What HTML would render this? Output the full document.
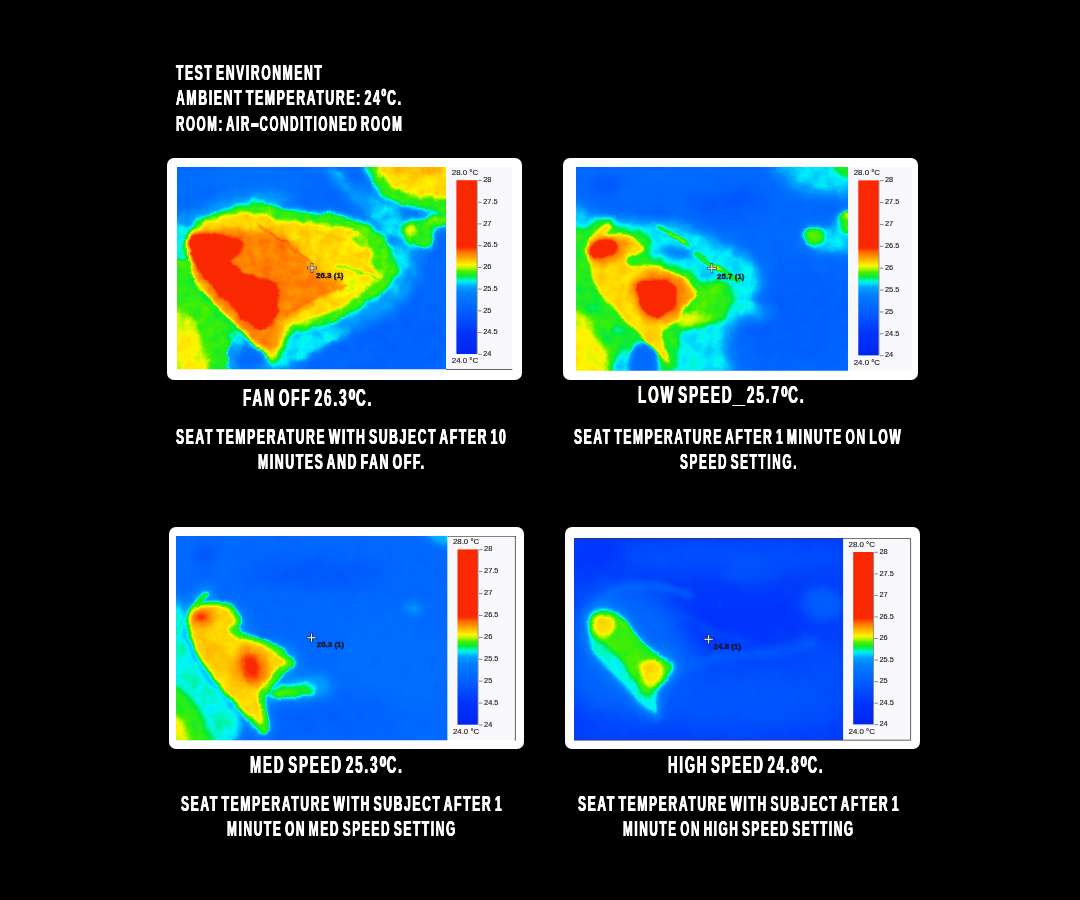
<!DOCTYPE html>
<html lang="en">
<head>
<meta charset="utf-8">
<title>Seat temperature thermal test</title>
<style>
html,body{margin:0;padding:0;background:#000;}
body{width:1080px;height:900px;position:relative;overflow:hidden;font-family:"Liberation Sans",sans-serif;}
.frame{position:absolute;background:#fff;border-radius:7px;overflow:hidden;}
.shot{position:absolute;display:block;}
.leg text{font-family:"Liberation Sans",sans-serif;font-size:7.4px;fill:#1c1c1c;stroke:#1c1c1c;stroke-width:0.15px;}
.leg text.u{font-size:7.9px;}
.mk text{font-family:"Liberation Sans",sans-serif;font-size:8px;font-weight:bold;fill:#15152a;stroke:#15152a;stroke-width:0.4px;}
header,main,figure,figcaption{display:block;margin:0;padding:0;}
.t{position:absolute;margin:0;padding:0;white-space:nowrap;color:#fff;font-weight:bold;line-height:1;transform-origin:0 0;letter-spacing:0.14em;word-spacing:-0.2em;text-shadow:0.65px 0 0 #fff,-0.65px 0 0 #fff;}
.t .dg{display:inline-block;transform:scale(1.3,1.3);transform-origin:50% 17%;margin:0 0.05em 0 0.07em;letter-spacing:0.06em;}
.t .us{display:inline-block;transform:scaleX(1.5);margin:0 0.15em;}
.t .hy{display:inline-block;transform:scale(2.1,1.45);transform-origin:0 59%;margin:0 0.45em 0 -0.04em;letter-spacing:0;}
.h .dg{transform:scale(1.05,0.95);margin:0 0.02em;}

.h{font-size:21.4px;}
.c{font-size:22.1px;}
.tt{font-size:24.7px;}
</style>
</head>
<body>
<header>
<p class="t h" style="left:175.9px;top:62.9px;transform:scaleX(0.5622)">TEST ENVIRONMENT</p>
<p class="t h" style="left:175.9px;top:87.9px;transform:scaleX(0.5680)">AMBIENT TEMPERATURE: 24<span class="dg">º</span>C.</p>
<p class="t h" style="left:175.9px;top:113.9px;transform:scaleX(0.5413)">ROOM: AIR<span class="hy">-</span>CONDITIONED ROOM</p>
</header>
<main>
<figure>
<div class="frame" style="left:167px;top:158px;width:355px;height:221.5px">
<svg class="shot" style="left:10px;top:9px" width="336.4" height="203.7" viewBox="177 167 336.4 203.7">
<defs>
<filter id="jet0" filterUnits="userSpaceOnUse" x="167" y="157" width="289.2" height="222.2" color-interpolation-filters="sRGB">
<feTurbulence type="fractalNoise" baseFrequency="0.08" numOctaves="3" seed="3" result="n"/>
<feColorMatrix in="n" type="matrix" values="0 0 1 0 0  0 0 1 0 0  0 0 1 0 0  0 0 0 0 1" result="ng"/>
<feDisplacementMap in="SourceGraphic" in2="n" scale="6" xChannelSelector="R" yChannelSelector="G" result="d"/>
<feComposite in="d" in2="ng" operator="arithmetic" k1="0" k2="1" k3="0.06" k4="-0.03" result="f"/>
<feComponentTransfer in="f">
<feFuncR type="table" tableValues="0.000 0.000 0.000 0.000 0.000 0.000 0.000 0.000 0.000 0.000 0.000 0.000 0.000 0.000 0.000 0.000 0.000 0.000 0.000 0.000 0.000 0.000 0.000 0.000 0.000 0.000 0.000 0.000 0.000 0.000 0.000 0.000 0.000 0.000 0.000 0.000 0.000 0.000 0.000 0.000 0.000 0.000 0.000 0.000 0.000 0.000 0.000 0.000 0.000 0.000 0.000 0.000 0.000 0.000 0.000 0.000 0.000 0.000 0.000 0.000 0.000 0.000 0.000 0.000 0.000 0.000 0.000 0.000 0.000 0.000 0.000 0.000 0.046 0.103 0.160 0.217 0.275 0.404 0.534 0.663 0.793 0.922 1.000 1.000 1.000 1.000 1.000 1.000 1.000 1.000 1.000 1.000 1.000 1.000 1.000 0.996 0.991 0.987 0.982 0.980 0.980 0.980 0.980 0.980 0.980 0.980 0.980 0.980 0.980 0.980 0.980 0.980 0.980 0.980 0.980 0.980 0.980 0.980 0.980 0.980 0.980"/>
<feFuncG type="table" tableValues="0.141 0.144 0.147 0.151 0.154 0.157 0.160 0.163 0.166 0.169 0.173 0.176 0.179 0.182 0.185 0.188 0.191 0.195 0.198 0.201 0.204 0.213 0.221 0.230 0.238 0.247 0.256 0.264 0.273 0.282 0.290 0.299 0.307 0.316 0.325 0.333 0.342 0.351 0.359 0.368 0.376 0.384 0.392 0.400 0.408 0.416 0.424 0.431 0.439 0.447 0.455 0.463 0.471 0.478 0.486 0.494 0.502 0.525 0.547 0.570 0.593 0.615 0.638 0.689 0.758 0.828 0.897 0.967 0.969 0.954 0.939 0.925 0.925 0.929 0.933 0.937 0.941 0.948 0.955 0.962 0.969 0.976 0.962 0.916 0.870 0.824 0.778 0.732 0.686 0.644 0.601 0.559 0.516 0.474 0.431 0.369 0.307 0.244 0.182 0.157 0.157 0.157 0.157 0.157 0.157 0.157 0.157 0.157 0.157 0.157 0.157 0.157 0.157 0.157 0.157 0.157 0.157 0.157 0.157 0.157 0.157"/>
<feFuncB type="table" tableValues="0.941 0.944 0.946 0.948 0.951 0.953 0.955 0.958 0.960 0.962 0.965 0.967 0.969 0.972 0.974 0.976 0.979 0.981 0.984 0.986 0.988 0.989 0.989 0.990 0.991 0.991 0.992 0.992 0.993 0.994 0.994 0.995 0.995 0.996 0.996 0.997 0.998 0.998 0.999 0.999 1.000 1.000 1.000 1.000 1.000 1.000 1.000 1.000 1.000 1.000 1.000 1.000 1.000 1.000 1.000 1.000 1.000 1.000 1.000 1.000 1.000 1.000 1.000 0.998 0.993 0.989 0.985 0.981 0.831 0.645 0.459 0.273 0.196 0.147 0.098 0.049 0.000 0.000 0.000 0.000 0.000 0.000 0.000 0.000 0.000 0.000 0.000 0.000 0.000 0.000 0.000 0.000 0.000 0.000 0.000 0.000 0.000 0.000 0.000 0.000 0.000 0.000 0.000 0.000 0.000 0.000 0.000 0.000 0.000 0.000 0.000 0.000 0.000 0.000 0.000 0.000 0.000 0.000 0.000 0.000 0.000"/>
</feComponentTransfer>
</filter>

<filter id="jet1" filterUnits="userSpaceOnUse" x="566" y="157" width="292" height="223.7" color-interpolation-filters="sRGB">
<feTurbulence type="fractalNoise" baseFrequency="0.07" numOctaves="3" seed="5" result="n"/>
<feColorMatrix in="n" type="matrix" values="0 0 1 0 0  0 0 1 0 0  0 0 1 0 0  0 0 0 0 1" result="ng"/>
<feDisplacementMap in="SourceGraphic" in2="n" scale="4" xChannelSelector="R" yChannelSelector="G" result="d"/>
<feComposite in="d" in2="ng" operator="arithmetic" k1="0" k2="1" k3="0.05" k4="-0.025" result="f"/>
<feComponentTransfer in="f">
<feFuncR type="table" tableValues="0.000 0.000 0.000 0.000 0.000 0.000 0.000 0.000 0.000 0.000 0.000 0.000 0.000 0.000 0.000 0.000 0.000 0.000 0.000 0.000 0.000 0.000 0.000 0.000 0.000 0.000 0.000 0.000 0.000 0.000 0.000 0.000 0.000 0.000 0.000 0.000 0.000 0.000 0.000 0.000 0.000 0.000 0.000 0.000 0.000 0.000 0.000 0.000 0.000 0.000 0.000 0.000 0.000 0.000 0.000 0.000 0.000 0.000 0.000 0.000 0.000 0.000 0.000 0.000 0.000 0.000 0.000 0.000 0.000 0.000 0.000 0.000 0.046 0.103 0.160 0.217 0.275 0.404 0.534 0.663 0.793 0.922 1.000 1.000 1.000 1.000 1.000 1.000 1.000 1.000 1.000 1.000 1.000 1.000 1.000 0.996 0.991 0.987 0.982 0.980 0.980 0.980 0.980 0.980 0.980 0.980 0.980 0.980 0.980 0.980 0.980 0.980 0.980 0.980 0.980 0.980 0.980 0.980 0.980 0.980 0.980"/>
<feFuncG type="table" tableValues="0.141 0.144 0.147 0.151 0.154 0.157 0.160 0.163 0.166 0.169 0.173 0.176 0.179 0.182 0.185 0.188 0.191 0.195 0.198 0.201 0.204 0.213 0.221 0.230 0.238 0.247 0.256 0.264 0.273 0.282 0.290 0.299 0.307 0.316 0.325 0.333 0.342 0.351 0.359 0.368 0.376 0.384 0.392 0.400 0.408 0.416 0.424 0.431 0.439 0.447 0.455 0.463 0.471 0.478 0.486 0.494 0.502 0.525 0.547 0.570 0.593 0.615 0.638 0.689 0.758 0.828 0.897 0.967 0.969 0.954 0.939 0.925 0.925 0.929 0.933 0.937 0.941 0.948 0.955 0.962 0.969 0.976 0.962 0.916 0.870 0.824 0.778 0.732 0.686 0.644 0.601 0.559 0.516 0.474 0.431 0.369 0.307 0.244 0.182 0.157 0.157 0.157 0.157 0.157 0.157 0.157 0.157 0.157 0.157 0.157 0.157 0.157 0.157 0.157 0.157 0.157 0.157 0.157 0.157 0.157 0.157"/>
<feFuncB type="table" tableValues="0.941 0.944 0.946 0.948 0.951 0.953 0.955 0.958 0.960 0.962 0.965 0.967 0.969 0.972 0.974 0.976 0.979 0.981 0.984 0.986 0.988 0.989 0.989 0.990 0.991 0.991 0.992 0.992 0.993 0.994 0.994 0.995 0.995 0.996 0.996 0.997 0.998 0.998 0.999 0.999 1.000 1.000 1.000 1.000 1.000 1.000 1.000 1.000 1.000 1.000 1.000 1.000 1.000 1.000 1.000 1.000 1.000 1.000 1.000 1.000 1.000 1.000 1.000 0.998 0.993 0.989 0.985 0.981 0.831 0.645 0.459 0.273 0.196 0.147 0.098 0.049 0.000 0.000 0.000 0.000 0.000 0.000 0.000 0.000 0.000 0.000 0.000 0.000 0.000 0.000 0.000 0.000 0.000 0.000 0.000 0.000 0.000 0.000 0.000 0.000 0.000 0.000 0.000 0.000 0.000 0.000 0.000 0.000 0.000 0.000 0.000 0.000 0.000 0.000 0.000 0.000 0.000 0.000 0.000 0.000 0.000"/>
</feComponentTransfer>
</filter>

<filter id="jet2" filterUnits="userSpaceOnUse" x="166.3" y="526.3" width="291.6" height="224.3" color-interpolation-filters="sRGB">
<feTurbulence type="fractalNoise" baseFrequency="0.07" numOctaves="3" seed="7" result="n"/>
<feColorMatrix in="n" type="matrix" values="0 0 1 0 0  0 0 1 0 0  0 0 1 0 0  0 0 0 0 1" result="ng"/>
<feDisplacementMap in="SourceGraphic" in2="n" scale="4" xChannelSelector="R" yChannelSelector="G" result="d"/>
<feComposite in="d" in2="ng" operator="arithmetic" k1="0" k2="1" k3="0.04" k4="-0.02" result="f"/>
<feComponentTransfer in="f">
<feFuncR type="table" tableValues="0.000 0.000 0.000 0.000 0.000 0.000 0.000 0.000 0.000 0.000 0.000 0.000 0.000 0.000 0.000 0.000 0.000 0.000 0.000 0.000 0.000 0.000 0.000 0.000 0.000 0.000 0.000 0.000 0.000 0.000 0.000 0.000 0.000 0.000 0.000 0.000 0.000 0.000 0.000 0.000 0.000 0.000 0.000 0.000 0.000 0.000 0.000 0.000 0.000 0.000 0.000 0.000 0.000 0.000 0.000 0.000 0.000 0.000 0.000 0.000 0.000 0.000 0.000 0.000 0.000 0.000 0.000 0.000 0.000 0.000 0.000 0.000 0.046 0.103 0.160 0.217 0.275 0.404 0.534 0.663 0.793 0.922 1.000 1.000 1.000 1.000 1.000 1.000 1.000 1.000 1.000 1.000 1.000 1.000 1.000 0.996 0.991 0.987 0.982 0.980 0.980 0.980 0.980 0.980 0.980 0.980 0.980 0.980 0.980 0.980 0.980 0.980 0.980 0.980 0.980 0.980 0.980 0.980 0.980 0.980 0.980"/>
<feFuncG type="table" tableValues="0.141 0.144 0.147 0.151 0.154 0.157 0.160 0.163 0.166 0.169 0.173 0.176 0.179 0.182 0.185 0.188 0.191 0.195 0.198 0.201 0.204 0.213 0.221 0.230 0.238 0.247 0.256 0.264 0.273 0.282 0.290 0.299 0.307 0.316 0.325 0.333 0.342 0.351 0.359 0.368 0.376 0.384 0.392 0.400 0.408 0.416 0.424 0.431 0.439 0.447 0.455 0.463 0.471 0.478 0.486 0.494 0.502 0.525 0.547 0.570 0.593 0.615 0.638 0.689 0.758 0.828 0.897 0.967 0.969 0.954 0.939 0.925 0.925 0.929 0.933 0.937 0.941 0.948 0.955 0.962 0.969 0.976 0.962 0.916 0.870 0.824 0.778 0.732 0.686 0.644 0.601 0.559 0.516 0.474 0.431 0.369 0.307 0.244 0.182 0.157 0.157 0.157 0.157 0.157 0.157 0.157 0.157 0.157 0.157 0.157 0.157 0.157 0.157 0.157 0.157 0.157 0.157 0.157 0.157 0.157 0.157"/>
<feFuncB type="table" tableValues="0.941 0.944 0.946 0.948 0.951 0.953 0.955 0.958 0.960 0.962 0.965 0.967 0.969 0.972 0.974 0.976 0.979 0.981 0.984 0.986 0.988 0.989 0.989 0.990 0.991 0.991 0.992 0.992 0.993 0.994 0.994 0.995 0.995 0.996 0.996 0.997 0.998 0.998 0.999 0.999 1.000 1.000 1.000 1.000 1.000 1.000 1.000 1.000 1.000 1.000 1.000 1.000 1.000 1.000 1.000 1.000 1.000 1.000 1.000 1.000 1.000 1.000 1.000 0.998 0.993 0.989 0.985 0.981 0.831 0.645 0.459 0.273 0.196 0.147 0.098 0.049 0.000 0.000 0.000 0.000 0.000 0.000 0.000 0.000 0.000 0.000 0.000 0.000 0.000 0.000 0.000 0.000 0.000 0.000 0.000 0.000 0.000 0.000 0.000 0.000 0.000 0.000 0.000 0.000 0.000 0.000 0.000 0.000 0.000 0.000 0.000 0.000 0.000 0.000 0.000 0.000 0.000 0.000 0.000 0.000 0.000"/>
</feComponentTransfer>
</filter>

<filter id="jet3" filterUnits="userSpaceOnUse" x="564.4" y="528" width="289.3" height="222" color-interpolation-filters="sRGB">
<feTurbulence type="fractalNoise" baseFrequency="0.07" numOctaves="3" seed="9" result="n"/>
<feColorMatrix in="n" type="matrix" values="0 0 1 0 0  0 0 1 0 0  0 0 1 0 0  0 0 0 0 1" result="ng"/>
<feDisplacementMap in="SourceGraphic" in2="n" scale="4" xChannelSelector="R" yChannelSelector="G" result="d"/>
<feComposite in="d" in2="ng" operator="arithmetic" k1="0" k2="1" k3="0.035" k4="-0.0175" result="f"/>
<feComponentTransfer in="f">
<feFuncR type="table" tableValues="0.000 0.000 0.000 0.000 0.000 0.000 0.000 0.000 0.000 0.000 0.000 0.000 0.000 0.000 0.000 0.000 0.000 0.000 0.000 0.000 0.000 0.000 0.000 0.000 0.000 0.000 0.000 0.000 0.000 0.000 0.000 0.000 0.000 0.000 0.000 0.000 0.000 0.000 0.000 0.000 0.000 0.000 0.000 0.000 0.000 0.000 0.000 0.000 0.000 0.000 0.000 0.000 0.000 0.000 0.000 0.000 0.000 0.000 0.000 0.000 0.000 0.000 0.000 0.000 0.000 0.000 0.000 0.000 0.000 0.000 0.000 0.000 0.046 0.103 0.160 0.217 0.275 0.404 0.534 0.663 0.793 0.922 1.000 1.000 1.000 1.000 1.000 1.000 1.000 1.000 1.000 1.000 1.000 1.000 1.000 0.996 0.991 0.987 0.982 0.980 0.980 0.980 0.980 0.980 0.980 0.980 0.980 0.980 0.980 0.980 0.980 0.980 0.980 0.980 0.980 0.980 0.980 0.980 0.980 0.980 0.980"/>
<feFuncG type="table" tableValues="0.141 0.144 0.147 0.151 0.154 0.157 0.160 0.163 0.166 0.169 0.173 0.176 0.179 0.182 0.185 0.188 0.191 0.195 0.198 0.201 0.204 0.213 0.221 0.230 0.238 0.247 0.256 0.264 0.273 0.282 0.290 0.299 0.307 0.316 0.325 0.333 0.342 0.351 0.359 0.368 0.376 0.384 0.392 0.400 0.408 0.416 0.424 0.431 0.439 0.447 0.455 0.463 0.471 0.478 0.486 0.494 0.502 0.525 0.547 0.570 0.593 0.615 0.638 0.689 0.758 0.828 0.897 0.967 0.969 0.954 0.939 0.925 0.925 0.929 0.933 0.937 0.941 0.948 0.955 0.962 0.969 0.976 0.962 0.916 0.870 0.824 0.778 0.732 0.686 0.644 0.601 0.559 0.516 0.474 0.431 0.369 0.307 0.244 0.182 0.157 0.157 0.157 0.157 0.157 0.157 0.157 0.157 0.157 0.157 0.157 0.157 0.157 0.157 0.157 0.157 0.157 0.157 0.157 0.157 0.157 0.157"/>
<feFuncB type="table" tableValues="0.941 0.944 0.946 0.948 0.951 0.953 0.955 0.958 0.960 0.962 0.965 0.967 0.969 0.972 0.974 0.976 0.979 0.981 0.984 0.986 0.988 0.989 0.989 0.990 0.991 0.991 0.992 0.992 0.993 0.994 0.994 0.995 0.995 0.996 0.996 0.997 0.998 0.998 0.999 0.999 1.000 1.000 1.000 1.000 1.000 1.000 1.000 1.000 1.000 1.000 1.000 1.000 1.000 1.000 1.000 1.000 1.000 1.000 1.000 1.000 1.000 1.000 1.000 0.998 0.993 0.989 0.985 0.981 0.831 0.645 0.459 0.273 0.196 0.147 0.098 0.049 0.000 0.000 0.000 0.000 0.000 0.000 0.000 0.000 0.000 0.000 0.000 0.000 0.000 0.000 0.000 0.000 0.000 0.000 0.000 0.000 0.000 0.000 0.000 0.000 0.000 0.000 0.000 0.000 0.000 0.000 0.000 0.000 0.000 0.000 0.000 0.000 0.000 0.000 0.000 0.000 0.000 0.000 0.000 0.000 0.000"/>
</feComponentTransfer>
</filter>
<filter id="b0_1" filterUnits="userSpaceOnUse" x="147" y="137" width="329.2" height="262.2" color-interpolation-filters="sRGB"><feGaussianBlur stdDeviation="1"/></filter>
<filter id="b0_1_5" filterUnits="userSpaceOnUse" x="147" y="137" width="329.2" height="262.2" color-interpolation-filters="sRGB"><feGaussianBlur stdDeviation="1.5"/></filter>
<filter id="b0_2" filterUnits="userSpaceOnUse" x="147" y="137" width="329.2" height="262.2" color-interpolation-filters="sRGB"><feGaussianBlur stdDeviation="2"/></filter>
<filter id="b0_2_5" filterUnits="userSpaceOnUse" x="147" y="137" width="329.2" height="262.2" color-interpolation-filters="sRGB"><feGaussianBlur stdDeviation="2.5"/></filter>
<filter id="b0_3" filterUnits="userSpaceOnUse" x="147" y="137" width="329.2" height="262.2" color-interpolation-filters="sRGB"><feGaussianBlur stdDeviation="3"/></filter>
<filter id="b0_3_5" filterUnits="userSpaceOnUse" x="147" y="137" width="329.2" height="262.2" color-interpolation-filters="sRGB"><feGaussianBlur stdDeviation="3.5"/></filter>
<filter id="b0_4" filterUnits="userSpaceOnUse" x="147" y="137" width="329.2" height="262.2" color-interpolation-filters="sRGB"><feGaussianBlur stdDeviation="4"/></filter>
<filter id="b0_5" filterUnits="userSpaceOnUse" x="147" y="137" width="329.2" height="262.2" color-interpolation-filters="sRGB"><feGaussianBlur stdDeviation="5"/></filter>
<filter id="b0_6" filterUnits="userSpaceOnUse" x="147" y="137" width="329.2" height="262.2" color-interpolation-filters="sRGB"><feGaussianBlur stdDeviation="6"/></filter>
<filter id="b0_8" filterUnits="userSpaceOnUse" x="147" y="137" width="329.2" height="262.2" color-interpolation-filters="sRGB"><feGaussianBlur stdDeviation="8"/></filter>
<filter id="b0_10" filterUnits="userSpaceOnUse" x="147" y="137" width="329.2" height="262.2" color-interpolation-filters="sRGB"><feGaussianBlur stdDeviation="10"/></filter>
<filter id="b1_1" filterUnits="userSpaceOnUse" x="546" y="137" width="332" height="263.7" color-interpolation-filters="sRGB"><feGaussianBlur stdDeviation="1"/></filter>
<filter id="b1_1_5" filterUnits="userSpaceOnUse" x="546" y="137" width="332" height="263.7" color-interpolation-filters="sRGB"><feGaussianBlur stdDeviation="1.5"/></filter>
<filter id="b1_2" filterUnits="userSpaceOnUse" x="546" y="137" width="332" height="263.7" color-interpolation-filters="sRGB"><feGaussianBlur stdDeviation="2"/></filter>
<filter id="b1_2_5" filterUnits="userSpaceOnUse" x="546" y="137" width="332" height="263.7" color-interpolation-filters="sRGB"><feGaussianBlur stdDeviation="2.5"/></filter>
<filter id="b1_3" filterUnits="userSpaceOnUse" x="546" y="137" width="332" height="263.7" color-interpolation-filters="sRGB"><feGaussianBlur stdDeviation="3"/></filter>
<filter id="b1_3_5" filterUnits="userSpaceOnUse" x="546" y="137" width="332" height="263.7" color-interpolation-filters="sRGB"><feGaussianBlur stdDeviation="3.5"/></filter>
<filter id="b1_4" filterUnits="userSpaceOnUse" x="546" y="137" width="332" height="263.7" color-interpolation-filters="sRGB"><feGaussianBlur stdDeviation="4"/></filter>
<filter id="b1_5" filterUnits="userSpaceOnUse" x="546" y="137" width="332" height="263.7" color-interpolation-filters="sRGB"><feGaussianBlur stdDeviation="5"/></filter>
<filter id="b1_8" filterUnits="userSpaceOnUse" x="546" y="137" width="332" height="263.7" color-interpolation-filters="sRGB"><feGaussianBlur stdDeviation="8"/></filter>
<filter id="b1_10" filterUnits="userSpaceOnUse" x="546" y="137" width="332" height="263.7" color-interpolation-filters="sRGB"><feGaussianBlur stdDeviation="10"/></filter>
<filter id="b2_1_5" filterUnits="userSpaceOnUse" x="146.3" y="506.3" width="331.6" height="264.3" color-interpolation-filters="sRGB"><feGaussianBlur stdDeviation="1.5"/></filter>
<filter id="b2_2" filterUnits="userSpaceOnUse" x="146.3" y="506.3" width="331.6" height="264.3" color-interpolation-filters="sRGB"><feGaussianBlur stdDeviation="2"/></filter>
<filter id="b2_2_5" filterUnits="userSpaceOnUse" x="146.3" y="506.3" width="331.6" height="264.3" color-interpolation-filters="sRGB"><feGaussianBlur stdDeviation="2.5"/></filter>
<filter id="b2_3" filterUnits="userSpaceOnUse" x="146.3" y="506.3" width="331.6" height="264.3" color-interpolation-filters="sRGB"><feGaussianBlur stdDeviation="3"/></filter>
<filter id="b2_3_5" filterUnits="userSpaceOnUse" x="146.3" y="506.3" width="331.6" height="264.3" color-interpolation-filters="sRGB"><feGaussianBlur stdDeviation="3.5"/></filter>
<filter id="b2_4" filterUnits="userSpaceOnUse" x="146.3" y="506.3" width="331.6" height="264.3" color-interpolation-filters="sRGB"><feGaussianBlur stdDeviation="4"/></filter>
<filter id="b2_5" filterUnits="userSpaceOnUse" x="146.3" y="506.3" width="331.6" height="264.3" color-interpolation-filters="sRGB"><feGaussianBlur stdDeviation="5"/></filter>
<filter id="b2_8" filterUnits="userSpaceOnUse" x="146.3" y="506.3" width="331.6" height="264.3" color-interpolation-filters="sRGB"><feGaussianBlur stdDeviation="8"/></filter>
<filter id="b2_10" filterUnits="userSpaceOnUse" x="146.3" y="506.3" width="331.6" height="264.3" color-interpolation-filters="sRGB"><feGaussianBlur stdDeviation="10"/></filter>
<filter id="b2_14" filterUnits="userSpaceOnUse" x="146.3" y="506.3" width="331.6" height="264.3" color-interpolation-filters="sRGB"><feGaussianBlur stdDeviation="14"/></filter>
<filter id="b3_2" filterUnits="userSpaceOnUse" x="544.4" y="508" width="329.3" height="262" color-interpolation-filters="sRGB"><feGaussianBlur stdDeviation="2"/></filter>
<filter id="b3_2_5" filterUnits="userSpaceOnUse" x="544.4" y="508" width="329.3" height="262" color-interpolation-filters="sRGB"><feGaussianBlur stdDeviation="2.5"/></filter>
<filter id="b3_3" filterUnits="userSpaceOnUse" x="544.4" y="508" width="329.3" height="262" color-interpolation-filters="sRGB"><feGaussianBlur stdDeviation="3"/></filter>
<filter id="b3_4" filterUnits="userSpaceOnUse" x="544.4" y="508" width="329.3" height="262" color-interpolation-filters="sRGB"><feGaussianBlur stdDeviation="4"/></filter>
<filter id="b3_5" filterUnits="userSpaceOnUse" x="544.4" y="508" width="329.3" height="262" color-interpolation-filters="sRGB"><feGaussianBlur stdDeviation="5"/></filter>
<filter id="b3_6" filterUnits="userSpaceOnUse" x="544.4" y="508" width="329.3" height="262" color-interpolation-filters="sRGB"><feGaussianBlur stdDeviation="6"/></filter>
<filter id="b3_8" filterUnits="userSpaceOnUse" x="544.4" y="508" width="329.3" height="262" color-interpolation-filters="sRGB"><feGaussianBlur stdDeviation="8"/></filter>
<filter id="b3_10" filterUnits="userSpaceOnUse" x="544.4" y="508" width="329.3" height="262" color-interpolation-filters="sRGB"><feGaussianBlur stdDeviation="10"/></filter>
<filter id="b3_12" filterUnits="userSpaceOnUse" x="544.4" y="508" width="329.3" height="262" color-interpolation-filters="sRGB"><feGaussianBlur stdDeviation="12"/></filter>
<linearGradient id="cb" x1="0" y1="0" x2="0" y2="1"><stop offset="0.0000" stop-color="#fa2800"/><stop offset="0.0125" stop-color="#fa2800"/><stop offset="0.0250" stop-color="#fa2800"/><stop offset="0.0375" stop-color="#fa2800"/><stop offset="0.0500" stop-color="#fa2800"/><stop offset="0.0625" stop-color="#fa2800"/><stop offset="0.0750" stop-color="#fa2800"/><stop offset="0.0875" stop-color="#fa2800"/><stop offset="0.1000" stop-color="#fa2800"/><stop offset="0.1125" stop-color="#fa2800"/><stop offset="0.1250" stop-color="#fa2800"/><stop offset="0.1375" stop-color="#fa2800"/><stop offset="0.1500" stop-color="#fa2800"/><stop offset="0.1625" stop-color="#fa2800"/><stop offset="0.1750" stop-color="#fa2800"/><stop offset="0.1875" stop-color="#fa2800"/><stop offset="0.2000" stop-color="#fa2800"/><stop offset="0.2125" stop-color="#fa2800"/><stop offset="0.2250" stop-color="#fa2800"/><stop offset="0.2375" stop-color="#fa2800"/><stop offset="0.2500" stop-color="#fa2800"/><stop offset="0.2625" stop-color="#fa2800"/><stop offset="0.2750" stop-color="#fa2800"/><stop offset="0.2875" stop-color="#fa2800"/><stop offset="0.3000" stop-color="#fa2800"/><stop offset="0.3125" stop-color="#fa2800"/><stop offset="0.3250" stop-color="#fa2800"/><stop offset="0.3375" stop-color="#fa2800"/><stop offset="0.3500" stop-color="#fa2800"/><stop offset="0.3625" stop-color="#fa2800"/><stop offset="0.3750" stop-color="#fa2800"/><stop offset="0.3875" stop-color="#fa2e00"/><stop offset="0.4000" stop-color="#fd4e00"/><stop offset="0.4125" stop-color="#ff6e00"/><stop offset="0.4250" stop-color="#ff8400"/><stop offset="0.4375" stop-color="#ff9900"/><stop offset="0.4500" stop-color="#ffaf00"/><stop offset="0.4625" stop-color="#ffc600"/><stop offset="0.4750" stop-color="#ffde00"/><stop offset="0.4875" stop-color="#fff500"/><stop offset="0.5000" stop-color="#caf700"/><stop offset="0.5125" stop-color="#88f400"/><stop offset="0.5250" stop-color="#46f000"/><stop offset="0.5375" stop-color="#29ee19"/><stop offset="0.5500" stop-color="#0cec32"/><stop offset="0.5625" stop-color="#00f075"/><stop offset="0.5750" stop-color="#00f7d4"/><stop offset="0.5875" stop-color="#00e5fb"/><stop offset="0.6000" stop-color="#00c1fd"/><stop offset="0.6125" stop-color="#00a3ff"/><stop offset="0.6250" stop-color="#0097ff"/><stop offset="0.6375" stop-color="#008cff"/><stop offset="0.6500" stop-color="#0080ff"/><stop offset="0.6625" stop-color="#007cff"/><stop offset="0.6750" stop-color="#0078ff"/><stop offset="0.6875" stop-color="#0074ff"/><stop offset="0.7000" stop-color="#0070ff"/><stop offset="0.7125" stop-color="#006cff"/><stop offset="0.7250" stop-color="#0068ff"/><stop offset="0.7375" stop-color="#0064ff"/><stop offset="0.7500" stop-color="#0060ff"/><stop offset="0.7625" stop-color="#005cff"/><stop offset="0.7750" stop-color="#0057fe"/><stop offset="0.7875" stop-color="#0053fe"/><stop offset="0.8000" stop-color="#004efe"/><stop offset="0.8125" stop-color="#004afe"/><stop offset="0.8250" stop-color="#0046fd"/><stop offset="0.8375" stop-color="#0041fd"/><stop offset="0.8500" stop-color="#003dfd"/><stop offset="0.8625" stop-color="#0038fc"/><stop offset="0.8750" stop-color="#0034fc"/><stop offset="0.8875" stop-color="#0032fb"/><stop offset="0.9000" stop-color="#0031fa"/><stop offset="0.9125" stop-color="#002ff8"/><stop offset="0.9250" stop-color="#002ef7"/><stop offset="0.9375" stop-color="#002cf6"/><stop offset="0.9500" stop-color="#002af5"/><stop offset="0.9625" stop-color="#0029f4"/><stop offset="0.9750" stop-color="#0027f2"/><stop offset="0.9875" stop-color="#0026f1"/><stop offset="1.0000" stop-color="#0024f0"/></linearGradient></defs>
<clipPath id="cl0"><rect x="177" y="167" width="269.2" height="202.2"/></clipPath>
<g clip-path="url(#cl0)"><g filter="url(#jet0)">
<rect x="137" y="127" width="349.2" height="282.2" fill="#5f5f5f"/>
<ellipse cx="239.5" cy="182" rx="75" ry="17.5" fill="#686868" filter="url(#b0_8)" opacity="0.8"/>
<ellipse cx="209.5" cy="192" rx="15" ry="10" fill="#5e5e5e" filter="url(#b0_5)" opacity="0.8"/>
<ellipse cx="389.5" cy="342" rx="75" ry="40" fill="#595959" filter="url(#b0_10)" opacity="0.9"/>
<ellipse cx="327" cy="357" rx="50" ry="15" fill="#5e5e5e" filter="url(#b0_6)" opacity="0.8"/>
<path d="M332.0 159.5C336.2 160.3 345.3 177.0 352.0 182.0C358.7 187.0 363.7 184.9 372.0 189.5C380.3 194.1 393.7 202.4 402.0 209.5C410.3 216.6 418.7 223.2 422.0 232.0C425.3 240.8 423.2 252.8 422.0 262.0C420.8 271.2 418.7 279.1 414.5 287.0C410.3 294.9 403.2 303.7 397.0 309.5C390.8 315.3 384.5 318.2 377.0 322.0C369.5 325.8 361.2 327.8 352.0 332.0C342.8 336.2 330.3 342.0 322.0 347.0C313.7 352.0 307.8 357.4 302.0 362.0C296.2 366.6 299.5 372.4 287.0 374.5C274.5 376.6 236.2 379.1 227.0 374.5C217.8 369.9 223.7 354.9 232.0 347.0C240.3 339.1 257.0 336.2 277.0 327.0C297.0 317.8 335.3 306.2 352.0 292.0C368.7 277.8 377.0 256.6 377.0 242.0C377.0 227.4 360.3 215.3 352.0 204.5C343.7 193.7 330.3 184.5 327.0 177.0C323.7 169.5 327.8 158.7 332.0 159.5Z" fill="#818181" filter="url(#b0_5)"/>
<path d="M169.5 217.0C173.2 204.9 182.4 213.2 192.0 209.5C201.6 205.8 214.9 197.8 227.0 194.5C239.1 191.2 252.8 188.7 264.5 189.5C276.2 190.3 299.1 194.9 297.0 199.5C294.9 204.1 267.8 211.6 252.0 217.0C236.2 222.4 212.8 221.2 202.0 232.0C191.2 242.8 192.4 273.7 187.0 282.0C181.6 290.3 172.4 292.8 169.5 282.0C166.6 271.2 165.8 229.1 169.5 217.0Z" fill="#808080" filter="url(#b0_5)"/>
<path d="M187.0 242.0C187.7 236.9 188.8 233.2 191.5 229.5C194.2 225.8 198.4 222.8 203.2 220.0C208.1 217.2 214.5 214.9 220.8 212.5C227.0 210.1 234.3 207.4 240.8 205.8C247.2 204.1 252.6 202.1 259.5 202.5C266.4 202.9 274.1 206.5 282.0 208.2C289.9 210.0 298.7 212.2 307.0 213.2C315.3 214.3 324.3 213.5 332.0 214.5C339.7 215.5 347.5 217.8 353.2 219.5C359.0 221.2 362.5 223.0 366.5 225.0C370.5 227.0 373.7 228.6 377.0 231.5C380.3 234.4 383.9 238.6 386.5 242.5C389.1 246.4 390.5 250.3 392.5 255.0C394.5 259.7 399.3 265.3 398.5 270.8C397.7 276.2 392.4 282.5 387.5 287.5C382.6 292.5 375.3 296.6 369.0 300.8C362.7 304.9 356.7 308.6 349.5 312.5C342.3 316.4 333.1 321.4 326.0 324.0C318.9 326.6 312.7 326.8 307.0 328.2C301.3 329.7 295.3 330.2 292.0 332.5C288.7 334.8 288.7 338.3 287.0 342.0C285.3 345.7 284.0 351.1 282.0 354.5C280.0 357.9 277.6 361.5 275.0 362.5C272.4 363.5 269.3 362.3 266.5 360.8C263.7 359.2 261.7 356.7 258.2 353.2C254.8 349.8 251.0 345.5 245.8 340.0C240.5 334.5 233.2 326.7 227.0 320.0C220.8 313.3 213.7 305.8 208.2 300.0C202.8 294.2 197.5 289.6 194.5 285.0C191.5 280.4 191.2 276.7 190.0 272.5C188.8 268.3 188.0 265.1 187.5 260.0C187.0 254.9 186.3 247.1 187.0 242.0Z" fill="#8d8d8d" stroke="#8d8d8d" stroke-width="8" stroke-linejoin="round" filter="url(#b0_3)"/>
<path d="M372.0 159.5C358.8 162.6 371.5 173.3 372.5 178.2C373.5 183.2 375.4 185.5 378.2 189.0C381.1 192.5 386.0 196.5 389.5 199.0C393.0 201.5 395.8 202.9 399.5 204.0C403.2 205.1 407.4 204.8 412.0 205.8C416.6 206.7 420.3 208.9 427.0 209.5C433.7 210.1 447.8 217.8 452.0 209.5C456.2 201.2 465.3 167.8 452.0 159.5C438.7 151.2 385.2 156.4 372.0 159.5Z" fill="#8d8d8d" stroke="#8d8d8d" stroke-width="10" stroke-linejoin="round" filter="url(#b0_3)"/>
<path d="M401.5 227.0C402.8 224.1 406.9 221.5 410.8 220.0C414.6 218.5 417.6 219.5 424.5 218.2C431.4 217.0 447.4 211.5 452.0 212.5C456.6 213.5 455.2 221.5 452.0 224.0C448.8 226.5 435.7 224.9 432.5 227.5C429.3 230.1 433.9 236.3 433.0 239.5C432.1 242.7 430.3 245.6 427.0 246.5C423.7 247.4 417.2 246.5 413.2 245.0C409.3 243.5 405.2 240.5 403.2 237.5C401.3 234.5 400.2 229.9 401.5 227.0Z" fill="#8d8d8d" stroke="#8d8d8d" stroke-width="8" stroke-linejoin="round" filter="url(#b0_3)"/>
<path d="M277.0 342.0C282.8 335.8 297.0 334.5 307.0 332.0C317.0 329.5 329.5 327.0 337.0 327.0C344.5 327.0 353.7 328.7 352.0 332.0C350.3 335.3 334.5 342.8 327.0 347.0C319.5 351.2 313.7 353.7 307.0 357.0C300.3 360.3 292.8 364.9 287.0 367.0C281.2 369.1 273.7 373.7 272.0 369.5C270.3 365.3 271.2 348.2 277.0 342.0Z" fill="#8d8d8d" filter="url(#b0_3)"/>
<path d="M169.5 227.0C171.6 217.6 178.7 223.7 182.0 225.8C185.3 227.8 188.2 230.5 189.5 239.5C190.8 248.5 192.8 272.4 189.5 279.5C186.2 286.6 172.8 290.8 169.5 282.0C166.2 273.2 167.4 236.4 169.5 227.0Z" fill="#909090" filter="url(#b0_3)"/>
<path d="M369.5 199.5C371.6 196.6 384.1 201.6 389.5 204.5C394.9 207.4 399.9 212.4 402.0 217.0C404.1 221.6 403.7 228.7 402.0 232.0C400.3 235.3 396.2 238.7 392.0 237.0C387.8 235.3 380.8 228.2 377.0 222.0C373.2 215.8 367.4 202.4 369.5 199.5Z" fill="#8b8b8b" filter="url(#b0_3)"/>
<path d="M392.0 247.0C395.8 239.1 407.0 245.3 409.5 249.5C412.0 253.7 409.1 264.9 407.0 272.0C404.9 279.1 400.3 287.8 397.0 292.0C393.7 296.2 387.8 304.5 387.0 297.0C386.2 289.5 388.2 254.9 392.0 247.0Z" fill="#8a8a8a" filter="url(#b0_3)"/>
<path d="M337 172 L342 175.75" fill="none" stroke="#909090" stroke-width="4" stroke-linecap="round" stroke-linejoin="round" filter="url(#b0_2)"/>
<path d="M372.0 159.5C358.8 162.6 371.5 173.3 372.5 178.2C373.5 183.2 375.4 185.5 378.2 189.0C381.1 192.5 386.0 196.5 389.5 199.0C393.0 201.5 395.8 202.9 399.5 204.0C403.2 205.1 407.4 204.8 412.0 205.8C416.6 206.7 420.3 208.9 427.0 209.5C433.7 210.1 447.8 217.8 452.0 209.5C456.2 201.2 465.3 167.8 452.0 159.5C438.7 151.2 385.2 156.4 372.0 159.5Z" fill="#9e9e9e" filter="url(#b0_2)"/>
<path d="M379.0 159.5C367.4 162.4 380.3 172.3 382.5 177.0C384.7 181.7 387.9 184.8 392.0 187.5C396.1 190.2 401.6 191.7 407.0 193.2C412.4 194.8 417.0 196.6 424.5 197.0C432.0 197.4 447.4 202.0 452.0 195.8C456.6 189.5 464.2 165.5 452.0 159.5C439.8 153.5 390.6 156.6 379.0 159.5Z" fill="#b1b1b1" filter="url(#b0_2_5)"/>
<ellipse cx="417" cy="168.25" rx="27.5" ry="10" fill="#bbbbbb" filter="url(#b0_4)" opacity="0.8"/>
<ellipse cx="439.5" cy="182" rx="10" ry="7.5" fill="#b9b9b9" filter="url(#b0_4)" opacity="0.6"/>
<path d="M401.5 227.0C402.8 224.1 406.9 221.5 410.8 220.0C414.6 218.5 417.6 219.5 424.5 218.2C431.4 217.0 447.4 211.5 452.0 212.5C456.6 213.5 455.2 221.5 452.0 224.0C448.8 226.5 435.7 224.9 432.5 227.5C429.3 230.1 433.9 236.3 433.0 239.5C432.1 242.7 430.3 245.6 427.0 246.5C423.7 247.4 417.2 246.5 413.2 245.0C409.3 243.5 405.2 240.5 403.2 237.5C401.3 234.5 400.2 229.9 401.5 227.0Z" fill="#9e9e9e" filter="url(#b0_2)"/>
<ellipse cx="410.75" cy="230" rx="5.5" ry="6.25" fill="#aaaaaa" filter="url(#b0_2)"/>
<ellipse cx="438.25" cy="220" rx="10" ry="3" fill="#a7a7a7" filter="url(#b0_2_5)"/>
<path d="M187.0 242.0C187.7 236.9 188.8 233.2 191.5 229.5C194.2 225.8 198.4 222.8 203.2 220.0C208.1 217.2 214.5 214.9 220.8 212.5C227.0 210.1 234.3 207.4 240.8 205.8C247.2 204.1 252.6 202.1 259.5 202.5C266.4 202.9 274.1 206.5 282.0 208.2C289.9 210.0 298.7 212.2 307.0 213.2C315.3 214.3 324.3 213.5 332.0 214.5C339.7 215.5 347.5 217.8 353.2 219.5C359.0 221.2 362.5 223.0 366.5 225.0C370.5 227.0 373.7 228.6 377.0 231.5C380.3 234.4 383.9 238.6 386.5 242.5C389.1 246.4 390.5 250.3 392.5 255.0C394.5 259.7 399.3 265.3 398.5 270.8C397.7 276.2 392.4 282.5 387.5 287.5C382.6 292.5 375.3 296.6 369.0 300.8C362.7 304.9 356.7 308.6 349.5 312.5C342.3 316.4 333.1 321.4 326.0 324.0C318.9 326.6 312.7 326.8 307.0 328.2C301.3 329.7 295.3 330.2 292.0 332.5C288.7 334.8 288.7 338.3 287.0 342.0C285.3 345.7 284.0 351.1 282.0 354.5C280.0 357.9 277.6 361.5 275.0 362.5C272.4 363.5 269.3 362.3 266.5 360.8C263.7 359.2 261.7 356.7 258.2 353.2C254.8 349.8 251.0 345.5 245.8 340.0C240.5 334.5 233.2 326.7 227.0 320.0C220.8 313.3 213.7 305.8 208.2 300.0C202.8 294.2 197.5 289.6 194.5 285.0C191.5 280.4 191.2 276.7 190.0 272.5C188.8 268.3 188.0 265.1 187.5 260.0C187.0 254.9 186.3 247.1 187.0 242.0Z" fill="#a0a0a0" filter="url(#b0_2)"/>
<path d="M189.5 242.0C190.3 237.3 191.3 234.6 194.0 231.5C196.7 228.4 200.9 225.7 205.8 223.2C210.6 220.8 217.0 218.7 223.2 217.0C229.5 215.3 236.8 213.7 243.2 213.2C249.7 212.8 255.1 213.2 262.0 214.5C268.9 215.8 277.0 219.4 284.5 220.8C292.0 222.1 299.3 221.7 307.0 222.5C314.7 223.3 323.7 224.6 330.8 225.8C337.8 226.9 344.3 227.6 349.5 229.5C354.7 231.4 358.9 234.4 362.0 237.0C365.1 239.6 366.6 242.0 368.2 245.0C369.9 248.0 371.5 251.5 372.0 255.0C372.5 258.5 369.8 262.5 371.5 265.8C373.2 269.0 382.1 271.6 382.5 274.5C382.9 277.4 377.4 280.2 374.0 283.0C370.6 285.8 366.2 288.2 362.0 291.5C357.8 294.8 354.8 298.7 349.0 302.5C343.2 306.3 334.0 311.2 327.0 314.5C320.0 317.8 313.2 320.1 307.0 322.0C300.8 323.9 293.5 323.1 289.5 326.0C285.5 328.9 285.1 335.1 283.2 339.5C281.4 343.9 279.9 349.4 278.2 352.5C276.6 355.6 275.0 357.3 273.2 358.2C271.5 359.2 269.8 359.5 267.5 358.2C265.2 357.0 262.9 354.1 259.5 350.8C256.1 347.4 252.2 343.7 247.0 338.2C241.8 332.8 234.5 324.9 228.2 318.2C222.0 311.6 214.9 304.1 209.5 298.2C204.1 292.4 199.0 287.6 196.0 283.2C193.0 278.9 192.7 276.0 191.5 272.0C190.3 268.0 189.3 264.5 189.0 259.5C188.7 254.5 188.7 246.7 189.5 242.0Z" fill="#b3b3b3" filter="url(#b0_2)"/>
<ellipse cx="359.5" cy="242" rx="11.25" ry="6.25" fill="#a3a3a3" filter="url(#b0_3)" opacity="0.8" transform="rotate(30 359.5 242)"/>
<path d="M337 267 L357 272 L377 278.25" fill="none" stroke="#a1a1a1" stroke-width="3" stroke-linecap="round" stroke-linejoin="round" filter="url(#b0_1_5)" opacity="0.9"/>
<ellipse cx="352" cy="287" rx="12.5" ry="6.25" fill="#a6a6a6" filter="url(#b0_3)" opacity="0.6" transform="rotate(-30 352 287)"/>
<path d="M190.8 235.8C194.0 231.9 202.2 230.2 209.5 229.0C216.8 227.8 226.2 228.0 234.5 228.2C242.8 228.5 251.6 228.7 259.5 230.8C267.4 232.8 274.9 236.4 282.0 240.8C289.1 245.1 296.2 252.0 302.0 257.0C307.8 262.0 312.0 267.4 317.0 270.8C322.0 274.1 327.8 274.7 332.0 277.0C336.2 279.3 342.8 281.6 342.0 284.5C341.2 287.4 332.8 290.8 327.0 294.5C321.2 298.2 313.7 303.2 307.0 307.0C300.3 310.8 291.6 312.8 287.0 317.0C282.4 321.2 281.8 326.8 279.5 332.0C277.2 337.2 275.2 345.0 273.2 348.2C271.2 351.5 269.7 351.9 267.5 351.5C265.3 351.1 263.2 348.6 260.0 345.8C256.8 342.9 253.3 339.5 248.2 334.5C243.2 329.5 235.8 322.2 229.5 315.8C223.2 309.3 216.1 301.5 210.8 295.8C205.4 290.0 200.5 285.9 197.5 281.5C194.5 277.1 193.8 274.4 192.5 269.5C191.2 264.6 190.3 257.6 190.0 252.0C189.7 246.4 187.5 239.6 190.8 235.8Z" fill="#c4c4c4" filter="url(#b0_3)"/>
<ellipse cx="282" cy="252" rx="27.5" ry="15" fill="#c4c4c4" filter="url(#b0_4)" opacity="0.7" transform="rotate(35 282 252)"/>
<path d="M190.0 244.5C190.4 240.3 191.3 237.5 195.0 235.8C198.7 234.0 206.2 233.9 212.0 234.0C217.8 234.1 224.4 235.1 229.5 236.5C234.6 237.9 241.2 239.9 242.5 242.5C243.8 245.1 239.0 249.1 237.0 252.0C235.0 254.9 230.5 257.1 230.8 260.0C231.0 262.9 234.7 266.7 238.2 269.5C241.8 272.3 246.8 274.9 252.0 277.0C257.2 279.1 265.4 279.9 269.5 282.0C273.6 284.1 275.2 285.8 276.5 289.5C277.8 293.2 277.6 299.9 277.5 304.5C277.4 309.1 277.3 313.7 275.8 317.0C274.2 320.3 271.2 322.5 268.2 324.5C265.3 326.5 261.4 329.4 258.2 329.0C255.1 328.6 253.7 325.7 249.5 322.0C245.3 318.3 238.9 312.6 233.2 307.0C227.6 301.4 221.0 293.9 215.8 288.2C210.5 282.6 205.9 277.8 202.0 273.2C198.1 268.7 194.5 265.5 192.5 260.8C190.5 256.0 189.6 248.7 190.0 244.5Z" fill="#dfdfdf" filter="url(#b0_2)"/>
<path d="M258.25 225.75 L284.5 242 L311.25 261.5" fill="none" stroke="#d0d0d0" stroke-width="1.6" stroke-linecap="round" stroke-linejoin="round" filter="url(#b0_1)" opacity="0.95"/>
<path d="M284.5 313.25 L307 302 L327 292 L347 284.5" fill="none" stroke="#cacaca" stroke-width="1.8" stroke-linecap="round" stroke-linejoin="round" filter="url(#b0_1)" opacity="0.85"/>
<path d="M317 232.5 L347 239.5 L367 249.5" fill="none" stroke="#bfbfbf" stroke-width="1.5" stroke-linecap="round" stroke-linejoin="round" filter="url(#b0_1_5)" opacity="0.7"/>
<path d="M169.5 267.0C171.6 247.8 178.9 260.7 182.0 259.5C185.1 258.3 186.8 257.8 188.2 260.0C189.7 262.2 189.7 268.3 190.8 272.5C191.8 276.7 191.6 280.4 194.5 285.0C197.4 289.6 202.8 294.2 208.2 300.0C213.7 305.8 221.8 314.5 227.0 320.0C232.2 325.5 238.5 329.6 239.5 333.2C240.5 336.9 235.1 338.9 233.2 342.0C231.4 345.1 229.3 348.2 228.2 352.0C227.2 355.8 227.6 360.8 227.0 364.5C226.4 368.2 234.1 372.8 224.5 374.5C214.9 376.2 178.7 392.4 169.5 374.5C160.3 356.6 167.4 286.2 169.5 267.0Z" fill="#9e9e9e" filter="url(#b0_1_5)"/>
<path d="M169.5 310.8C172.4 300.8 181.8 310.5 187.0 314.5C192.2 318.5 197.2 327.4 200.8 334.5C204.3 341.6 207.4 350.3 208.2 357.0C209.1 363.7 212.2 371.6 205.8 374.5C199.3 377.4 175.5 385.1 169.5 374.5C163.5 363.9 166.6 320.8 169.5 310.8Z" fill="#acacac" filter="url(#b0_3_5)"/>
<ellipse cx="184.5" cy="342" rx="7.5" ry="15" fill="#b3b3b3" filter="url(#b0_4)" opacity="0.7"/>
<ellipse cx="192" cy="367" rx="10" ry="7.5" fill="#b3b3b3" filter="url(#b0_4)" opacity="0.7"/>
<path d="M230.8 332.0C232.8 330.7 237.2 331.5 240.8 334.0C244.3 336.5 248.5 342.8 252.0 347.0C255.5 351.2 262.0 356.6 262.0 359.5C262.0 362.4 256.2 365.8 252.0 364.5C247.8 363.2 241.0 355.8 237.0 352.0C233.0 348.2 229.3 345.3 228.2 342.0C227.2 338.7 228.7 333.3 230.8 332.0Z" fill="#8f8f8f" filter="url(#b0_3)" opacity="0.9"/>
<ellipse cx="250" cy="358.25" rx="13.75" ry="10.5" fill="#5f5f5f" filter="url(#b0_3)"/>
</g>
<g class="mk"><path d="M307 268h10M312 263v10" stroke="#2a2a3a" stroke-width="2.6" fill="none" opacity="0.8"/><path d="M307.8 268h8.4M312 263.8v8.4" stroke="#fff" stroke-width="1" fill="none"/><text x="316" y="277.6">26.3 (1)</text></g>
</g>
<g class="leg"><rect x="446.2" y="167" width="66.2" height="202.2" fill="#f9f9fd"/><rect x="456.4" y="180.2" width="20.5" height="173.8" fill="url(#cb)"/><path d="M477.2 180.2V354" stroke="#555" stroke-width="0.6" fill="none"/><path d="M478.1 180.5h3.6" stroke="#555" stroke-width="0.7"/><text x="483.2" y="182.2">28</text><path d="M478.1 202.225h3.6" stroke="#555" stroke-width="0.7"/><text x="483.2" y="203.925">27.5</text><path d="M478.1 223.95h3.6" stroke="#555" stroke-width="0.7"/><text x="483.2" y="225.65">27</text><path d="M478.1 245.675h3.6" stroke="#555" stroke-width="0.7"/><text x="483.2" y="247.375">26.5</text><path d="M478.1 267.4h3.6" stroke="#555" stroke-width="0.7"/><text x="483.2" y="269.1">26</text><path d="M478.1 289.125h3.6" stroke="#555" stroke-width="0.7"/><text x="483.2" y="290.825">25.5</text><path d="M478.1 310.85h3.6" stroke="#555" stroke-width="0.7"/><text x="483.2" y="312.55">25</text><path d="M478.1 332.575h3.6" stroke="#555" stroke-width="0.7"/><text x="483.2" y="334.275">24.5</text><path d="M478.1 354.3h3.6" stroke="#555" stroke-width="0.7"/><text x="483.2" y="356">24</text><text class="u" x="451.8" y="175">28.0 °C</text><text class="u" x="451.8" y="363.4">24.0 °C</text><path d="M446 369.5H512.4" stroke="#3a3a3a" stroke-width="0.8" fill="none"/></g>
</svg>
</div>
<figcaption>
<h2 class="t tt" style="left:242.5px;top:386.0px;transform:scaleX(0.5494)">FAN OFF 26.3<span class="dg">º</span>C.</h2>
<p class="t c" style="left:176.0px;top:426.3px;transform:scaleX(0.5462)">SEAT TEMPERATURE WITH SUBJECT AFTER 10</p>
<p class="t c" style="left:257.7px;top:451.3px;transform:scaleX(0.5491)">MINUTES AND FAN OFF.</p>
</figcaption>
</figure>
<figure>
<div class="frame" style="left:563.3px;top:158px;width:354.7px;height:221.5px">
<svg class="shot" style="left:12.7px;top:9px" width="337" height="205.2" viewBox="576 167 337 205.2">
<clipPath id="cl1"><rect x="576" y="167" width="272" height="203.7"/></clipPath>
<g clip-path="url(#cl1)"><g filter="url(#jet1)">
<rect x="536" y="127" width="352" height="283.7" fill="#5f5f5f"/>
<ellipse cx="606" cy="184.5" rx="15" ry="10" fill="#4c4c4c" filter="url(#b1_5)" opacity="0.9"/>
<ellipse cx="726" cy="199.5" rx="40" ry="15" fill="#4c4c4c" filter="url(#b1_8)" opacity="0.9"/>
<ellipse cx="651" cy="214.5" rx="15" ry="7.5" fill="#515151" filter="url(#b1_5)" opacity="0.8"/>
<ellipse cx="801" cy="317" rx="62.5" ry="50" fill="#555555" filter="url(#b1_10)" opacity="0.8"/>
<ellipse cx="688.5" cy="182" rx="50" ry="12.5" fill="#626262" filter="url(#b1_8)" opacity="0.8"/>
<path d="M773.5 159.5C761.2 163.0 775.6 174.9 779.8 180.8C783.9 186.6 790.8 191.5 798.5 194.5C806.2 197.5 816.8 198.4 826.0 199.0C835.2 199.6 848.9 204.8 853.5 198.2C858.1 191.7 866.8 166.0 853.5 159.5C840.2 153.0 785.8 156.0 773.5 159.5Z" fill="#808080" filter="url(#b1_4)"/>
<path d="M786.0 159.5C775.6 162.4 787.9 172.4 791.0 177.0C794.1 181.6 798.9 184.7 804.8 187.0C810.6 189.3 817.9 190.3 826.0 190.8C834.1 191.2 848.9 194.7 853.5 189.5C858.1 184.3 864.8 164.5 853.5 159.5C842.2 154.5 796.4 156.6 786.0 159.5Z" fill="#8b8b8b" filter="url(#b1_4)"/>
<path d="M829.8 159.5C826.6 161.6 832.5 169.1 834.8 172.0C837.0 174.9 840.4 176.1 843.5 177.0C846.6 177.9 851.8 180.4 853.5 177.5C855.2 174.6 857.5 162.5 853.5 159.5C849.5 156.5 832.9 157.4 829.8 159.5Z" fill="#9b9b9b" filter="url(#b1_3)"/>
<path d="M568.5 209.5C572.2 182.2 583.5 209.9 591.0 210.8C598.5 211.6 603.5 213.2 613.5 214.5C623.5 215.8 639.3 217.2 651.0 218.2C662.7 219.3 673.5 218.5 683.5 220.8C693.5 223.0 701.4 227.6 711.0 232.0C720.6 236.4 732.2 241.2 741.0 247.0C749.8 252.8 759.3 260.3 763.5 267.0C767.7 273.7 767.2 281.2 766.0 287.0C764.8 292.8 754.8 298.7 756.0 302.0C757.2 305.3 771.8 304.1 773.5 307.0C775.2 309.9 771.4 316.6 766.0 319.5C760.6 322.4 746.8 320.8 741.0 324.5C735.2 328.2 731.8 335.8 731.0 342.0C730.2 348.2 736.0 356.6 736.0 362.0C736.0 367.4 758.9 372.4 731.0 374.5C703.1 376.6 595.6 402.0 568.5 374.5C541.4 347.0 564.8 236.8 568.5 209.5Z" fill="#808080" filter="url(#b1_5)"/>
<path d="M568.5 217.0C572.2 190.8 583.5 216.4 591.0 217.0C598.5 217.6 603.5 219.7 613.5 220.8C623.5 221.8 639.8 222.2 651.0 223.2C662.2 224.3 671.8 224.3 681.0 227.0C690.2 229.7 696.8 235.3 706.0 239.5C715.2 243.7 727.7 247.0 736.0 252.0C744.3 257.0 752.2 263.7 756.0 269.5C759.8 275.3 759.8 281.8 758.5 287.0C757.2 292.2 748.1 297.2 748.5 300.8C748.9 304.3 760.6 305.5 761.0 308.2C761.4 311.0 756.0 314.7 751.0 317.0C746.0 319.3 735.6 317.8 731.0 322.0C726.4 326.2 724.3 335.3 723.5 342.0C722.7 348.7 726.4 356.6 726.0 362.0C725.6 367.4 747.2 372.4 721.0 374.5C694.8 376.6 593.9 400.8 568.5 374.5C543.1 348.2 564.8 243.2 568.5 217.0Z" fill="#8d8d8d" filter="url(#b1_4)"/>
<ellipse cx="676" cy="252" rx="15" ry="4" fill="#6f6f6f" filter="url(#b1_3)" opacity="0.9" transform="rotate(10 676 252)"/>
<ellipse cx="746" cy="307" rx="10" ry="3.5" fill="#929292" filter="url(#b1_3)" opacity="0.8"/>
<path d="M799.8 236.5C799.3 233.0 802.0 229.6 804.8 227.5C807.5 225.4 812.0 224.2 816.0 224.0C820.0 223.8 825.2 227.7 828.5 226.5C831.8 225.3 831.8 219.4 836.0 217.0C840.2 214.6 850.6 206.0 853.5 212.0C856.4 218.0 856.4 246.2 853.5 253.2C850.6 260.2 841.4 254.0 836.0 254.0C830.6 254.0 825.8 254.2 821.0 253.2C816.2 252.3 810.8 251.0 807.2 248.2C803.7 245.5 800.2 240.0 799.8 236.5Z" fill="#808080" filter="url(#b1_4)"/>
<path d="M801.5 236.5C801.1 233.4 803.6 230.3 806.0 228.5C808.4 226.7 812.5 225.5 816.0 225.5C819.5 225.5 823.8 229.5 827.2 228.5C830.7 227.5 832.1 221.8 836.5 219.5C840.9 217.2 850.7 209.3 853.5 214.5C856.3 219.7 856.4 244.6 853.5 250.8C850.6 256.9 841.4 251.4 836.0 251.5C830.6 251.6 825.6 252.2 821.0 251.5C816.4 250.8 811.8 249.5 808.5 247.0C805.2 244.5 801.9 239.6 801.5 236.5Z" fill="#8b8b8b" filter="url(#b1_3)"/>
<path d="M804.0 236.2C804.3 234.2 806.1 231.3 808.0 230.0C809.9 228.7 813.1 228.2 815.5 228.5C817.9 228.8 820.8 229.9 822.2 231.5C823.8 233.1 824.8 236.2 824.5 238.2C824.2 240.3 822.5 242.9 820.5 244.0C818.5 245.1 814.7 245.2 812.2 245.0C809.8 244.8 807.4 244.0 806.0 242.5C804.6 241.0 803.7 238.3 804.0 236.2Z" fill="#a0a0a0" filter="url(#b1_2)"/>
<path d="M839.8 212.0C841.9 209.5 851.2 205.8 853.5 209.5C855.8 213.2 855.1 230.2 853.5 234.0C851.9 237.8 846.2 234.1 844.0 232.5C841.8 230.9 841.2 227.9 840.5 224.5C839.8 221.1 837.6 214.5 839.8 212.0Z" fill="#9e9e9e" filter="url(#b1_2_5)"/>
<ellipse cx="847.5" cy="215" rx="3" ry="3.5" fill="#afafaf" filter="url(#b1_2)"/>
<path d="M568.5 239.5C571.0 215.5 579.1 233.9 583.5 230.8C587.9 227.6 590.2 222.8 594.8 220.8C599.3 218.7 607.0 217.2 611.0 218.2C615.0 219.3 613.5 224.8 618.5 227.0C623.5 229.2 635.6 229.0 641.0 231.5C646.4 234.0 649.3 237.8 651.0 242.0C652.7 246.2 646.0 252.8 651.0 257.0C656.0 261.2 672.7 262.8 681.0 267.0C689.3 271.2 696.8 277.0 701.0 282.0C705.2 287.0 703.5 296.2 706.0 297.0C708.5 297.8 712.2 289.1 716.0 287.0C719.8 284.9 725.2 282.8 728.5 284.5C731.8 286.2 736.4 292.0 736.0 297.0C735.6 302.0 729.3 310.1 726.0 314.5C722.7 318.9 722.7 320.8 716.0 323.2C709.3 325.8 692.2 326.4 686.0 329.5C679.8 332.6 680.2 336.2 678.5 342.0C676.8 347.8 678.5 359.1 676.0 364.5C673.5 369.9 671.4 372.8 663.5 374.5C655.6 376.2 634.8 379.9 628.5 374.5C622.2 369.1 629.8 342.0 626.0 342.0C622.2 342.0 615.6 369.1 606.0 374.5C596.4 379.9 574.8 397.0 568.5 374.5C562.2 352.0 566.0 263.5 568.5 239.5Z" fill="#9c9c9c" filter="url(#b1_3)"/>
<path d="M698.5 287.0C701.4 283.5 706.6 281.2 711.0 280.8C715.4 280.3 722.2 281.8 724.8 284.5C727.2 287.2 726.2 292.4 726.0 297.0C725.8 301.6 726.0 308.0 723.5 312.0C721.0 316.0 715.6 319.9 711.0 320.8C706.4 321.6 698.9 320.1 696.0 317.0C693.1 313.9 693.1 307.0 693.5 302.0C693.9 297.0 695.6 290.5 698.5 287.0Z" fill="#a0a0a0" filter="url(#b1_3)"/>
<ellipse cx="669.75" cy="337" rx="8" ry="11.25" fill="#9e9e9e" filter="url(#b1_3)"/>
<ellipse cx="593.5" cy="307" rx="6.25" ry="4.5" fill="#929292" filter="url(#b1_3)" opacity="0.8"/>
<ellipse cx="618.5" cy="329.5" rx="7.5" ry="4.5" fill="#929292" filter="url(#b1_3)" opacity="0.8"/>
<path d="M632.2 352.0C633.4 347.1 635.6 346.0 638.5 345.0C641.4 344.0 646.9 344.2 649.8 345.8C652.6 347.3 654.7 349.7 655.5 354.5C656.3 359.3 658.8 371.2 654.8 374.5C650.8 377.8 635.2 378.2 631.5 374.5C627.8 370.8 631.1 356.9 632.2 352.0Z" fill="#5f5f5f" filter="url(#b1_3)"/>
<path d="M568.5 314.5C571.4 305.2 581.2 315.2 586.0 319.0C590.8 322.8 593.9 331.5 597.2 337.0C600.6 342.5 604.3 345.8 606.0 352.0C607.7 358.2 613.5 370.8 607.2 374.5C601.0 378.2 575.0 384.5 568.5 374.5C562.0 364.5 565.6 323.8 568.5 314.5Z" fill="#aeaeae" filter="url(#b1_3_5)"/>
<ellipse cx="583.5" cy="319.5" rx="8.75" ry="5.5" fill="#a8a8a8" filter="url(#b1_3)" opacity="0.8"/>
<path d="M658.5 227 L676 235.75 L688.5 244.5" fill="none" stroke="#9e9e9e" stroke-width="3.5" stroke-linecap="round" stroke-linejoin="round" filter="url(#b1_1_5)"/>
<path d="M669 233.5 L684.75 242.5" fill="none" stroke="#aeaeae" stroke-width="2.2" stroke-linecap="round" stroke-linejoin="round" filter="url(#b1_1)"/>
<path d="M695.5 253.25 L711 265.75 L726 272 L738.5 282" fill="none" stroke="#9e9e9e" stroke-width="4" stroke-linecap="round" stroke-linejoin="round" filter="url(#b1_1_5)"/>
<path d="M709.75 265.75 L721 270" fill="none" stroke="#acacac" stroke-width="2.5" stroke-linecap="round" stroke-linejoin="round" filter="url(#b1_1)"/>
<path d="M676.0 315.0C678.9 312.8 688.3 312.2 693.5 312.5C698.7 312.8 704.4 315.2 707.2 316.5C710.1 317.8 711.5 319.0 710.5 320.5C709.5 322.0 704.7 324.4 701.0 325.5C697.3 326.6 692.7 327.0 688.5 327.0C684.3 327.0 678.1 327.5 676.0 325.5C673.9 323.5 673.1 317.2 676.0 315.0Z" fill="#aaaaaa" filter="url(#b1_2_5)"/>
<path d="M587.8 251.5C587.4 246.8 587.2 245.2 588.5 242.0C589.8 238.8 592.6 235.1 595.2 232.2C597.9 229.4 601.7 226.1 604.2 224.8C606.8 223.4 609.5 223.5 610.8 224.0C612.0 224.5 612.3 226.2 611.5 227.8C610.7 229.2 607.0 231.5 605.8 233.0C604.5 234.5 603.5 236.5 604.0 237.0C604.5 237.5 605.8 236.4 608.5 236.0C611.2 235.6 616.8 234.5 620.5 234.5C624.2 234.5 627.8 234.9 630.8 236.0C633.7 237.1 636.1 239.0 638.2 241.0C640.4 243.0 642.8 246.0 643.5 247.8C644.2 249.5 644.1 250.4 642.8 251.5C641.4 252.6 637.8 253.6 635.2 254.5C632.8 255.4 629.2 255.5 627.8 256.8C626.2 258.0 625.8 260.2 626.2 261.8C626.8 263.3 628.0 265.5 630.8 266.2C633.5 267.0 638.5 266.2 642.8 266.2C647.0 266.2 651.8 265.5 656.0 266.2C660.2 267.0 663.8 269.0 667.8 270.8C671.7 272.5 676.0 274.5 679.8 276.8C683.5 279.0 687.0 281.4 690.0 284.0C693.0 286.6 696.8 290.0 697.5 292.2C698.2 294.5 696.5 295.2 694.5 297.2C692.5 299.3 688.1 302.5 685.8 304.8C683.4 307.0 681.6 308.5 680.5 310.8C679.4 313.0 680.4 316.0 679.0 318.2C677.6 320.5 674.8 322.3 672.2 324.0C669.8 325.7 665.9 326.6 664.0 328.2C662.1 329.9 661.1 331.9 661.0 334.0C660.9 336.1 662.4 337.8 663.5 341.0C664.6 344.2 667.0 349.3 667.8 353.0C668.5 356.7 668.7 362.5 667.8 363.2C666.8 364.0 665.0 360.5 662.0 357.5C659.0 354.5 654.5 350.0 650.0 345.5C645.5 341.0 640.2 335.9 635.2 330.8C630.3 325.6 625.4 319.7 620.5 314.5C615.6 309.3 610.0 304.7 605.8 299.8C601.5 294.8 597.8 289.7 595.2 284.8C592.8 279.8 592.0 275.5 590.8 270.0C589.5 264.5 588.1 256.2 587.8 251.5Z" fill="#b3b3b3" filter="url(#b1_1_5)"/>
<path d="M589.0 247.0C589.8 243.5 591.9 239.9 596.0 238.2C600.1 236.6 608.5 236.8 613.5 237.0C618.5 237.2 623.3 237.8 626.0 239.5C628.7 241.2 630.2 244.5 629.8 247.0C629.3 249.5 626.2 251.8 623.5 254.5C620.8 257.2 617.2 261.5 613.5 263.2C609.8 265.0 604.7 265.6 601.0 265.0C597.3 264.4 593.5 262.5 591.5 259.5C589.5 256.5 588.2 250.5 589.0 247.0Z" fill="#c4c4c4" filter="url(#b1_3_5)"/>
<path d="M631.5 287.0C632.4 281.5 636.1 277.5 641.0 275.0C645.9 272.5 654.8 271.2 661.0 272.0C667.2 272.8 673.7 276.4 678.5 279.5C683.3 282.6 688.7 286.6 689.8 290.8C690.8 294.9 687.0 300.3 684.8 304.5C682.5 308.7 680.0 312.6 676.0 315.8C672.0 318.9 665.8 322.5 661.0 323.2C656.2 324.0 651.5 322.5 647.2 320.0C643.0 317.5 638.1 313.8 635.5 308.2C632.9 302.8 630.6 292.5 631.5 287.0Z" fill="#c5c5c5" filter="url(#b1_3_5)"/>
<path d="M590.8 250.0C591.1 248.1 591.8 244.9 593.8 243.2C595.8 241.6 599.5 240.6 602.8 240.2C606.0 239.9 610.7 240.1 613.0 241.0C615.3 241.9 616.8 243.5 616.8 245.5C616.8 247.5 614.8 251.1 613.0 253.0C611.2 254.9 608.7 256.1 605.8 256.8C602.8 257.4 597.6 257.1 595.2 256.8C592.9 256.4 592.2 255.6 591.5 254.5C590.8 253.4 590.4 251.9 590.8 250.0Z" fill="#dfdfdf" filter="url(#b1_2)"/>
<path d="M637.5 292.2C637.5 289.3 637.2 285.3 639.8 283.2C642.3 281.2 648.3 280.3 653.0 280.0C657.7 279.7 664.2 279.7 667.8 281.2C671.3 282.8 673.4 285.7 674.5 289.2C675.6 292.8 675.8 298.5 674.2 302.5C672.8 306.5 668.5 310.5 665.5 313.0C662.5 315.5 659.1 317.8 656.0 317.5C652.9 317.2 649.7 314.2 647.0 311.5C644.3 308.8 641.3 304.2 639.8 301.0C638.2 297.8 637.5 295.2 637.5 292.2Z" fill="#dfdfdf" filter="url(#b1_2)"/>
</g>
<g class="mk"><path d="M706.8 268.3h10M711.8 263.3v10" stroke="#2a2a3a" stroke-width="2.6" fill="none" opacity="0.8"/><path d="M707.6 268.3h8.4M711.8 264.1v8.4" stroke="#fff" stroke-width="1" fill="none"/><text x="717" y="278.6">25.7 (1)</text></g>
</g>
<g class="leg"><rect x="848" y="167" width="64" height="203.7" fill="#f9f9fd"/><rect x="858.3" y="180.4" width="20.4" height="175" fill="url(#cb)"/><path d="M879 180.4V355.4" stroke="#555" stroke-width="0.6" fill="none"/><path d="M879.9 180.7h3.6" stroke="#555" stroke-width="0.7"/><text x="885" y="182.4">28</text><path d="M879.9 202.575h3.6" stroke="#555" stroke-width="0.7"/><text x="885" y="204.275">27.5</text><path d="M879.9 224.45h3.6" stroke="#555" stroke-width="0.7"/><text x="885" y="226.15">27</text><path d="M879.9 246.325h3.6" stroke="#555" stroke-width="0.7"/><text x="885" y="248.025">26.5</text><path d="M879.9 268.2h3.6" stroke="#555" stroke-width="0.7"/><text x="885" y="269.9">26</text><path d="M879.9 290.075h3.6" stroke="#555" stroke-width="0.7"/><text x="885" y="291.775">25.5</text><path d="M879.9 311.95h3.6" stroke="#555" stroke-width="0.7"/><text x="885" y="313.65">25</text><path d="M879.9 333.825h3.6" stroke="#555" stroke-width="0.7"/><text x="885" y="335.525">24.5</text><path d="M879.9 355.7h3.6" stroke="#555" stroke-width="0.7"/><text x="885" y="357.4">24</text><text class="u" x="853.7" y="175.2">28.0 °C</text><text class="u" x="853.7" y="364.8">24.0 °C</text></g>
</svg>
</div>
<figcaption>
<h2 class="t tt" style="left:637.8px;top:382.9px;transform:scaleX(0.5476)">LOW SPEED<span class="us">_</span>25.7<span class="dg">º</span>C.</h2>
<p class="t c" style="left:574.1px;top:426.3px;transform:scaleX(0.5417)">SEAT TEMPERATURE AFTER 1 MINUTE ON LOW</p>
<p class="t c" style="left:679.7px;top:451.3px;transform:scaleX(0.5326)">SPEED SETTING.</p>
</figcaption>
</figure>
<figure>
<div class="frame" style="left:169.3px;top:527px;width:355.1px;height:221.6px">
<svg class="shot" style="left:7px;top:9.3px" width="340.7" height="205.8" viewBox="176.3 536.3 340.7 205.8">
<clipPath id="cl2"><rect x="176.3" y="536.3" width="271.6" height="204.3"/></clipPath>
<g clip-path="url(#cl2)"><g filter="url(#jet2)">
<rect x="136.3" y="496.3" width="351.6" height="284.3" fill="#5e5e5e"/>
<ellipse cx="316" cy="573.5" rx="70" ry="15" fill="#4e4e4e" filter="url(#b2_8)" opacity="0.9"/>
<ellipse cx="203.5" cy="556" rx="12.5" ry="10" fill="#4e4e4e" filter="url(#b2_5)" opacity="0.9"/>
<ellipse cx="388.5" cy="666" rx="62.5" ry="55" fill="#666666" filter="url(#b2_14)" opacity="0.8"/>
<ellipse cx="326" cy="716" rx="75" ry="25" fill="#555555" filter="url(#b2_10)" opacity="0.7"/>
<ellipse cx="412.25" cy="608.5" rx="10" ry="8" fill="#808080" filter="url(#b2_3)" opacity="0.9"/>
<path d="M423.5 528.5C420.2 530.6 426.4 537.7 431.0 541.0C435.6 544.3 447.7 550.6 451.0 548.5C454.3 546.4 455.6 531.8 451.0 528.5C446.4 525.2 426.8 526.4 423.5 528.5Z" fill="#888888" filter="url(#b2_3)"/>
<path d="M168.5 601.0C171.4 577.2 181.0 603.3 186.0 601.0C191.0 598.7 193.9 589.8 198.5 587.2C203.1 584.8 210.2 584.1 213.5 586.0C216.8 587.9 213.5 594.8 218.5 598.5C223.5 602.2 237.7 602.7 243.5 608.5C249.3 614.3 246.8 627.7 253.5 633.5C260.2 639.3 275.2 638.9 283.5 643.5C291.8 648.1 301.4 656.0 303.5 661.0C305.6 666.0 293.1 671.6 296.0 673.5C298.9 675.4 314.3 670.2 321.0 672.2C327.7 674.3 336.0 681.2 336.0 686.0C336.0 690.8 331.0 697.9 321.0 701.0C311.0 704.1 283.9 700.2 276.0 704.8C268.1 709.3 275.6 722.9 273.5 728.5C271.4 734.1 268.9 738.5 263.5 738.5C258.1 738.5 245.6 727.7 241.0 728.5C236.4 729.3 248.1 741.0 236.0 743.5C223.9 746.0 179.8 767.2 168.5 743.5C157.2 719.8 165.6 624.8 168.5 601.0Z" fill="#808080" filter="url(#b2_5)"/>
<path d="M168.5 611.0C171.0 588.9 180.2 606.8 183.5 611.0C186.8 615.2 186.0 627.7 188.5 636.0C191.0 644.3 194.3 653.1 198.5 661.0C202.7 668.9 207.7 676.0 213.5 683.5C219.3 691.0 228.9 699.8 233.5 706.0C238.1 712.2 241.4 714.8 241.0 721.0C240.6 727.2 243.1 739.8 231.0 743.5C218.9 747.2 178.9 765.6 168.5 743.5C158.1 721.4 166.0 633.1 168.5 611.0Z" fill="#909090" filter="url(#b2_4)"/>
<path d="M188.5 618.5C188.8 615.2 189.0 613.2 190.5 611.0C192.0 608.8 194.0 606.8 197.2 605.5C200.5 604.2 205.6 603.4 209.8 603.0C213.9 602.6 218.7 602.5 222.2 603.0C225.8 603.5 228.5 604.2 231.0 606.0C233.5 607.8 235.8 610.8 237.2 613.5C238.7 616.2 239.5 619.7 239.8 622.2C240.0 624.8 237.7 627.0 238.5 629.0C239.3 631.0 241.8 632.5 244.8 634.0C247.7 635.5 252.2 636.8 256.0 638.0C259.8 639.2 263.5 639.8 267.2 641.5C271.0 643.2 275.2 645.7 278.5 648.0C281.8 650.3 284.5 653.1 287.2 655.5C290.0 657.9 294.8 659.9 294.8 662.2C294.8 664.6 290.0 666.8 287.2 669.8C284.5 672.7 281.4 676.4 278.5 679.8C275.6 683.1 272.2 686.6 269.8 689.8C267.3 692.9 264.7 695.0 264.0 698.5C263.3 702.0 264.8 706.6 265.5 711.0C266.2 715.4 268.3 721.0 268.5 724.8C268.7 728.5 268.0 732.7 266.5 733.5C265.0 734.3 262.5 731.9 259.8 729.8C257.0 727.6 253.5 724.0 250.0 720.5C246.5 717.0 242.7 713.1 238.5 708.5C234.3 703.9 229.3 698.4 224.8 693.0C220.2 687.6 215.0 681.5 211.0 676.0C207.0 670.5 203.5 665.2 200.5 659.8C197.5 654.3 194.9 648.3 193.0 643.5C191.1 638.7 189.8 635.2 189.0 631.0C188.2 626.8 188.2 621.8 188.5 618.5Z" fill="#909090" stroke="#909090" stroke-width="4.4" stroke-linejoin="round" filter="url(#b2_1_5)"/>
<path d="M168.5 688.5C171.4 680.4 181.0 691.0 186.0 694.8C191.0 698.5 195.2 705.4 198.5 711.0C201.8 716.6 204.3 723.1 206.0 728.5C207.7 733.9 214.8 741.0 208.5 743.5C202.2 746.0 175.2 752.7 168.5 743.5C161.8 734.3 165.6 696.6 168.5 688.5Z" fill="#9e9e9e" filter="url(#b2_3_5)"/>
<path d="M168.5 714.8C170.6 710.6 177.7 715.4 181.0 718.5C184.3 721.6 187.0 729.3 188.5 733.5C190.0 737.7 193.1 741.8 189.8 743.5C186.4 745.2 172.0 748.3 168.5 743.5C165.0 738.7 166.4 718.9 168.5 714.8Z" fill="#adadad" filter="url(#b2_3)"/>
<ellipse cx="293" cy="691" rx="26.25" ry="8" fill="#909090" filter="url(#b2_2_5)" transform="rotate(-5 293 691)"/>
<ellipse cx="290.5" cy="692" rx="21.5" ry="4.5" fill="#9e9e9e" filter="url(#b2_2_5)" transform="rotate(-4 290.5 692)"/>
<ellipse cx="286" cy="692.5" rx="10" ry="2" fill="#a6a6a6" filter="url(#b2_2)" transform="rotate(-4 286 692.5)"/>
<path d="M193 609 L201 599 L208 593.25" fill="none" stroke="#9e9e9e" stroke-width="5" stroke-linecap="round" stroke-linejoin="round" filter="url(#b2_1_5)"/>
<path d="M188.5 618.5C188.8 615.2 189.0 613.2 190.5 611.0C192.0 608.8 194.0 606.8 197.2 605.5C200.5 604.2 205.6 603.4 209.8 603.0C213.9 602.6 218.7 602.5 222.2 603.0C225.8 603.5 228.5 604.2 231.0 606.0C233.5 607.8 235.8 610.8 237.2 613.5C238.7 616.2 239.5 619.7 239.8 622.2C240.0 624.8 237.7 627.0 238.5 629.0C239.3 631.0 241.8 632.5 244.8 634.0C247.7 635.5 252.2 636.8 256.0 638.0C259.8 639.2 263.5 639.8 267.2 641.5C271.0 643.2 275.2 645.7 278.5 648.0C281.8 650.3 284.5 653.1 287.2 655.5C290.0 657.9 294.8 659.9 294.8 662.2C294.8 664.6 290.0 666.8 287.2 669.8C284.5 672.7 281.4 676.4 278.5 679.8C275.6 683.1 272.2 686.6 269.8 689.8C267.3 692.9 264.7 695.0 264.0 698.5C263.3 702.0 264.8 706.6 265.5 711.0C266.2 715.4 268.3 721.0 268.5 724.8C268.7 728.5 268.0 732.7 266.5 733.5C265.0 734.3 262.5 731.9 259.8 729.8C257.0 727.6 253.5 724.0 250.0 720.5C246.5 717.0 242.7 713.1 238.5 708.5C234.3 703.9 229.3 698.4 224.8 693.0C220.2 687.6 215.0 681.5 211.0 676.0C207.0 670.5 203.5 665.2 200.5 659.8C197.5 654.3 194.9 648.3 193.0 643.5C191.1 638.7 189.8 635.2 189.0 631.0C188.2 626.8 188.2 621.8 188.5 618.5Z" fill="#a0a0a0" filter="url(#b2_1_5)"/>
<path d="M191.0 619.0C191.3 616.9 191.7 615.4 193.0 613.8C194.3 612.1 196.2 610.4 199.0 609.2C201.8 608.1 206.2 607.2 209.8 606.8C213.3 606.3 217.5 606.3 220.5 606.8C223.5 607.2 225.4 607.8 227.5 609.2C229.6 610.7 231.8 613.2 233.0 615.5C234.2 617.8 235.4 620.7 234.8 622.8C234.1 624.8 229.9 626.4 229.2 628.0C228.6 629.6 229.5 631.0 231.0 632.5C232.5 634.0 235.6 635.5 238.2 637.0C240.9 638.5 244.0 640.2 247.0 641.2C250.0 642.2 253.0 642.1 256.0 643.0C259.0 643.9 262.0 645.2 265.0 646.8C268.0 648.2 271.1 650.1 273.8 652.0C276.4 653.9 279.0 656.5 281.0 658.2C283.0 660.0 286.6 661.0 286.0 662.8C285.4 664.5 279.9 666.6 277.2 669.0C274.6 671.4 272.6 674.2 270.2 677.0C267.9 679.8 264.9 683.0 263.0 685.8C261.1 688.5 259.3 690.6 258.8 693.8C258.2 696.9 259.1 701.0 259.5 704.5C259.9 708.0 260.7 712.0 261.2 715.0C261.8 718.0 263.3 720.8 263.0 722.2C262.7 723.8 261.2 724.9 259.5 724.0C257.8 723.1 255.5 720.0 252.5 717.0C249.5 714.0 245.6 710.1 241.8 706.2C237.9 702.4 233.4 698.2 229.2 693.8C225.1 689.3 220.8 684.2 217.0 679.5C213.2 674.8 209.5 670.0 206.2 665.2C203.0 660.5 199.5 655.7 197.2 651.0C195.0 646.3 194.0 641.1 193.0 637.0C192.0 632.9 191.3 629.2 191.0 626.2C190.7 623.2 190.7 621.1 191.0 619.0Z" fill="#b3b3b3" filter="url(#b2_1_5)"/>
<ellipse cx="203.5" cy="618.5" rx="12.5" ry="9" fill="#c4c4c4" filter="url(#b2_4)" transform="rotate(-10 203.5 618.5)"/>
<ellipse cx="251" cy="667.25" rx="17" ry="20" fill="#c4c4c4" filter="url(#b2_5)" transform="rotate(-20 251 667.25)"/>
<path d="M196.0 631.0C197.7 628.5 209.3 636.0 216.0 641.0C222.7 646.0 230.2 652.7 236.0 661.0C241.8 669.3 249.3 685.2 251.0 691.0C252.7 696.8 250.2 698.1 246.0 696.0C241.8 693.9 232.7 685.2 226.0 678.5C219.3 671.8 211.0 663.9 206.0 656.0C201.0 648.1 194.3 633.5 196.0 631.0Z" fill="#b9b9b9" filter="url(#b2_4)" opacity="0.7"/>
<ellipse cx="201.5" cy="618" rx="7.5" ry="4.75" fill="#d6d6d6" filter="url(#b2_3)" transform="rotate(-10 201.5 618)"/>
<ellipse cx="251.5" cy="668" rx="7.5" ry="12" fill="#d8d8d8" filter="url(#b2_4)" transform="rotate(-20 251.5 668)"/>
</g>
<g class="mk"><path d="M306.8 638h10M311.8 633v10" stroke="#2a2a3a" stroke-width="2.6" fill="none" opacity="0.8"/><path d="M307.6 638h8.4M311.8 633.8v8.4" stroke="#fff" stroke-width="1" fill="none"/><text x="317" y="647.6">25.3 (1)</text></g>
</g>
<g class="leg"><rect x="447.9" y="536.3" width="68.1" height="204.3" fill="#f9f9fd"/><rect x="457.8" y="549.7" width="20.3" height="175.3" fill="url(#cb)"/><path d="M478.4 549.7V725" stroke="#555" stroke-width="0.6" fill="none"/><path d="M479.3 550h3.6" stroke="#555" stroke-width="0.7"/><text x="484.4" y="551.7">28</text><path d="M479.3 571.913h3.6" stroke="#555" stroke-width="0.7"/><text x="484.4" y="573.613">27.5</text><path d="M479.3 593.825h3.6" stroke="#555" stroke-width="0.7"/><text x="484.4" y="595.525">27</text><path d="M479.3 615.737h3.6" stroke="#555" stroke-width="0.7"/><text x="484.4" y="617.438">26.5</text><path d="M479.3 637.65h3.6" stroke="#555" stroke-width="0.7"/><text x="484.4" y="639.35">26</text><path d="M479.3 659.562h3.6" stroke="#555" stroke-width="0.7"/><text x="484.4" y="661.263">25.5</text><path d="M479.3 681.475h3.6" stroke="#555" stroke-width="0.7"/><text x="484.4" y="683.175">25</text><path d="M479.3 703.387h3.6" stroke="#555" stroke-width="0.7"/><text x="484.4" y="705.087">24.5</text><path d="M479.3 725.3h3.6" stroke="#555" stroke-width="0.7"/><text x="484.4" y="727">24</text><text class="u" x="453.2" y="544.5">28.0 °C</text><text class="u" x="453.2" y="734.4">24.0 °C</text><path d="M515.7 536V741" stroke="#3a3a3a" stroke-width="0.8" fill="none"/><path d="M447.9 536.6H516" stroke="#3a3a3a" stroke-width="0.8" fill="none"/></g>
</svg>
</div>
<figcaption>
<h2 class="t tt" style="left:250.4px;top:753.0px;transform:scaleX(0.5416)">MED SPEED 25.3<span class="dg">º</span>C.</h2>
<p class="t c" style="left:181.0px;top:793.3px;transform:scaleX(0.5448)">SEAT TEMPERATURE WITH SUBJECT AFTER 1</p>
<p class="t c" style="left:226.7px;top:818.3px;transform:scaleX(0.5371)">MINUTE ON MED SPEED SETTING</p>
</figcaption>
</figure>
<figure>
<div class="frame" style="left:565.2px;top:527px;width:354.8px;height:221.6px">
<svg class="shot" style="left:9.2px;top:11px" width="337.8" height="203.5" viewBox="574.4 538 337.8 203.5">
<clipPath id="cl3"><rect x="574.4" y="538" width="269.3" height="202"/></clipPath>
<g clip-path="url(#cl3)"><g filter="url(#jet3)">
<rect x="534.4" y="498" width="349.3" height="282" fill="#353535"/>
<ellipse cx="724" cy="556.75" rx="130" ry="13.75" fill="#484848" filter="url(#b3_8)" opacity="0.9"/>
<ellipse cx="749" cy="575.5" rx="30" ry="12.5" fill="#515151" filter="url(#b3_8)" opacity="0.8"/>
<ellipse cx="631.5" cy="658" rx="65" ry="65" fill="#5f5f5f" filter="url(#b3_12)" opacity="0.95"/>
<ellipse cx="614" cy="613" rx="37.5" ry="27.5" fill="#5e5e5e" filter="url(#b3_10)" opacity="0.8"/>
<ellipse cx="736.5" cy="698" rx="105" ry="32.5" fill="#4e4e4e" filter="url(#b3_12)" opacity="0.9"/>
<ellipse cx="821.5" cy="604.25" rx="21.25" ry="16.25" fill="#595959" filter="url(#b3_5)" opacity="0.9"/>
<ellipse cx="824" cy="678" rx="25" ry="37.5" fill="#484848" filter="url(#b3_10)" opacity="0.8"/>
<ellipse cx="744" cy="618" rx="62.5" ry="30" fill="#2a2a2a" filter="url(#b3_12)" opacity="0.9"/>
<ellipse cx="704" cy="598" rx="30" ry="12.5" fill="#2f2f2f" filter="url(#b3_6)" opacity="0.8"/>
<ellipse cx="599" cy="553" rx="30" ry="15" fill="#2a2a2a" filter="url(#b3_8)" opacity="0.8"/>
<ellipse cx="604" cy="728" rx="35" ry="12.5" fill="#3b3b3b" filter="url(#b3_8)" opacity="0.8"/>
<path d="M596.5 600.5 L624 588 L659 585.5 L689 595.5" fill="none" stroke="#6a6a6a" stroke-width="6" stroke-linecap="round" stroke-linejoin="round" filter="url(#b3_3)" opacity="0.8"/>
<path d="M679 668 L724 655.5 L774 653 L814 643" fill="none" stroke="#5e5e5e" stroke-width="10" stroke-linecap="round" stroke-linejoin="round" filter="url(#b3_4)" opacity="0.7"/>
<path d="M649 603 L679 613 L714 633 L749 643" fill="none" stroke="#515151" stroke-width="5" stroke-linecap="round" stroke-linejoin="round" filter="url(#b3_3)" opacity="0.6"/>
<path d="M587.8 625.5C587.9 621.8 588.0 618.2 589.5 615.5C591.0 612.8 594.0 610.5 597.0 609.2C600.0 608.0 604.3 607.7 607.8 608.0C611.2 608.3 614.7 609.2 617.8 611.0C620.8 612.8 623.6 615.7 626.0 618.5C628.4 621.3 629.8 624.8 632.0 628.0C634.2 631.2 636.8 635.0 639.5 638.0C642.2 641.0 644.7 643.4 648.0 646.0C651.3 648.6 655.5 651.1 659.5 653.5C663.5 655.9 669.4 658.3 672.0 660.5C674.6 662.7 675.2 664.0 675.2 666.5C675.2 669.0 673.9 672.3 672.0 675.5C670.1 678.7 666.4 682.2 664.0 685.5C661.6 688.8 658.6 691.3 657.8 695.5C656.9 699.7 659.7 707.4 659.0 710.5C658.3 713.6 656.4 715.2 653.5 714.2C650.6 713.3 644.8 708.1 641.5 705.0C638.2 701.9 637.8 699.6 634.0 695.5C630.2 691.4 624.0 685.5 619.0 680.5C614.0 675.5 608.2 670.1 604.0 665.5C599.8 660.9 596.1 657.6 593.5 653.0C590.9 648.4 589.5 642.6 588.5 638.0C587.5 633.4 587.6 629.2 587.8 625.5Z" fill="#7b7b7b" stroke="#7b7b7b" stroke-width="10" stroke-linejoin="round" filter="url(#b3_4)"/>
<path d="M587.8 625.5C587.9 621.8 588.0 618.2 589.5 615.5C591.0 612.8 594.0 610.5 597.0 609.2C600.0 608.0 604.3 607.7 607.8 608.0C611.2 608.3 614.7 609.2 617.8 611.0C620.8 612.8 623.6 615.7 626.0 618.5C628.4 621.3 629.8 624.8 632.0 628.0C634.2 631.2 636.8 635.0 639.5 638.0C642.2 641.0 644.7 643.4 648.0 646.0C651.3 648.6 655.5 651.1 659.5 653.5C663.5 655.9 669.4 658.3 672.0 660.5C674.6 662.7 675.2 664.0 675.2 666.5C675.2 669.0 673.9 672.3 672.0 675.5C670.1 678.7 666.4 682.2 664.0 685.5C661.6 688.8 658.6 691.3 657.8 695.5C656.9 699.7 659.7 707.4 659.0 710.5C658.3 713.6 656.4 715.2 653.5 714.2C650.6 713.3 644.8 708.1 641.5 705.0C638.2 701.9 637.8 699.6 634.0 695.5C630.2 691.4 624.0 685.5 619.0 680.5C614.0 675.5 608.2 670.1 604.0 665.5C599.8 660.9 596.1 657.6 593.5 653.0C590.9 648.4 589.5 642.6 588.5 638.0C587.5 633.4 587.6 629.2 587.8 625.5Z" fill="#909090" filter="url(#b3_2)"/>
<path d="M590.5 627.5C590.5 624.8 590.8 621.0 592.0 618.5C593.2 616.0 595.5 613.8 598.0 612.5C600.5 611.2 604.0 610.8 607.0 611.0C610.0 611.2 613.2 612.5 616.0 614.0C618.8 615.5 621.2 617.5 623.5 620.0C625.8 622.5 627.2 625.8 629.5 629.0C631.8 632.2 634.2 636.2 637.0 639.5C639.8 642.8 642.5 645.8 646.0 648.5C649.5 651.2 654.2 653.8 658.0 656.0C661.8 658.2 666.2 660.2 668.5 662.0C670.8 663.8 671.5 664.5 671.5 666.5C671.5 668.5 670.2 671.2 668.5 674.0C666.8 676.8 663.5 680.2 661.0 683.0C658.5 685.8 655.8 688.5 653.5 690.5C651.2 692.5 649.5 695.0 647.5 695.0C645.5 695.0 643.8 693.0 641.5 690.5C639.2 688.0 636.5 683.8 634.0 680.0C631.5 676.2 629.2 672.0 626.5 668.0C623.8 664.0 620.5 659.5 617.5 656.0C614.5 652.5 611.8 649.5 608.5 647.0C605.2 644.5 600.8 643.0 598.0 641.0C595.2 639.0 593.2 637.2 592.0 635.0C590.8 632.8 590.5 630.2 590.5 627.5Z" fill="#a0a0a0" filter="url(#b3_2)"/>
<path d="M624 623 L636.5 638 L649 650.5" fill="none" stroke="#a8a8a8" stroke-width="3" stroke-linecap="round" stroke-linejoin="round" filter="url(#b3_2)" opacity="0.8"/>
<path d="M593.5 626.0C593.5 623.5 594.2 620.2 595.8 618.5C597.2 616.8 599.9 615.5 602.5 615.5C605.1 615.5 609.2 616.8 611.5 618.5C613.8 620.2 616.0 623.5 616.0 626.0C616.0 628.5 613.8 631.5 611.5 633.5C609.2 635.5 605.1 638.0 602.5 638.0C599.9 638.0 597.2 635.5 595.8 633.5C594.2 631.5 593.5 628.5 593.5 626.0Z" fill="#b1b1b1" filter="url(#b3_2_5)"/>
<path d="M640.0 668.0C640.2 665.0 642.2 663.2 644.5 662.0C646.8 660.8 650.5 660.0 653.5 660.5C656.5 661.0 660.8 663.0 662.5 665.0C664.2 667.0 664.5 669.8 664.0 672.5C663.5 675.2 661.8 679.2 659.5 681.5C657.2 683.8 653.2 686.2 650.5 686.0C647.8 685.8 644.8 683.0 643.0 680.0C641.2 677.0 639.8 671.0 640.0 668.0Z" fill="#b1b1b1" filter="url(#b3_2_5)"/>
<ellipse cx="602" cy="624.25" rx="5" ry="5.5" fill="#b4b4b4" filter="url(#b3_3)"/>
<ellipse cx="652" cy="669.25" rx="5.5" ry="6" fill="#b3b3b3" filter="url(#b3_3)"/>
</g>
<g class="mk"><path d="M704 639.3h10M709 634.3v10" stroke="#2a2a3a" stroke-width="2.6" fill="none" opacity="0.8"/><path d="M704.8 639.3h8.4M709 635.1v8.4" stroke="#fff" stroke-width="1" fill="none"/><text x="714" y="648.8">24.8 (1)</text></g>
</g>
<g class="leg"><rect x="843.7" y="538" width="67.5" height="202" fill="#f9f9fd"/><rect x="853.6" y="552" width="20" height="172.4" fill="url(#cb)"/><path d="M873.9 552V724.4" stroke="#555" stroke-width="0.6" fill="none"/><path d="M874.8 552.3h3.6" stroke="#555" stroke-width="0.7"/><text x="879.9" y="554">28</text><path d="M874.8 573.85h3.6" stroke="#555" stroke-width="0.7"/><text x="879.9" y="575.55">27.5</text><path d="M874.8 595.4h3.6" stroke="#555" stroke-width="0.7"/><text x="879.9" y="597.1">27</text><path d="M874.8 616.95h3.6" stroke="#555" stroke-width="0.7"/><text x="879.9" y="618.65">26.5</text><path d="M874.8 638.5h3.6" stroke="#555" stroke-width="0.7"/><text x="879.9" y="640.2">26</text><path d="M874.8 660.05h3.6" stroke="#555" stroke-width="0.7"/><text x="879.9" y="661.75">25.5</text><path d="M874.8 681.6h3.6" stroke="#555" stroke-width="0.7"/><text x="879.9" y="683.3">25</text><path d="M874.8 703.15h3.6" stroke="#555" stroke-width="0.7"/><text x="879.9" y="704.85">24.5</text><path d="M874.8 724.7h3.6" stroke="#555" stroke-width="0.7"/><text x="879.9" y="726.4">24</text><text class="u" x="849" y="546.8">28.0 °C</text><text class="u" x="849" y="733.8">24.0 °C</text><path d="M574 740.2H911V538.4H574V740.2" stroke="#3a3a3a" stroke-width="0.8" fill="none"/></g>
</svg>
</div>
<figcaption>
<h2 class="t tt" style="left:667.7px;top:753.0px;transform:scaleX(0.5317)">HIGH SPEED 24.8<span class="dg">º</span>C.</h2>
<p class="t c" style="left:577.7px;top:793.3px;transform:scaleX(0.5446)">SEAT TEMPERATURE WITH SUBJECT AFTER 1</p>
<p class="t c" style="left:622.7px;top:818.3px;transform:scaleX(0.5298)">MINUTE ON HIGH SPEED SETTING</p>
</figcaption>
</figure>
</main>
</body>
</html>
